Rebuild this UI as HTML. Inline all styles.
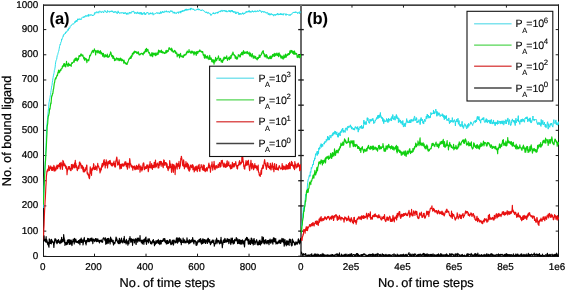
<!DOCTYPE html>
<html><head><meta charset="utf-8"><title>bound ligand</title>
<style>html,body{margin:0;padding:0;background:#fff;}svg{display:block;will-change:transform;}text{font-family:"Liberation Sans",sans-serif;fill:#000;text-rendering:geometricPrecision;stroke:#000;stroke-width:0.22px;}</style>
</head><body>
<svg width="566" height="290" viewBox="0 0 566 290">
<rect width="566" height="290" fill="#fff"/>
<defs><clipPath id="ca"><rect x="43" y="0" width="258" height="257"/></clipPath><clipPath id="cb"><rect x="301" y="0" width="258" height="257"/></clipPath></defs>
<line x1="43.00" y1="5.20" x2="559.00" y2="5.20" stroke="#000" stroke-width="1.3"/>
<line x1="43.50" y1="256.50" x2="558.50" y2="256.50" stroke="#1a1a1a" stroke-width="1.0"/>
<line x1="43.50" y1="4.50" x2="43.50" y2="257.00" stroke="#1a1a1a" stroke-width="1.0"/>
<line x1="558.50" y1="4.50" x2="558.50" y2="257.00" stroke="#1a1a1a" stroke-width="1.0"/>
<line x1="301.00" y1="5.00" x2="301.00" y2="256.50" stroke="#6a6a6a" stroke-width="2.0"/>
<line x1="43.50" y1="256.30" x2="46.30" y2="256.30" stroke="#1a1a1a" stroke-width="1.0"/>
<line x1="298.20" y1="256.30" x2="303.80" y2="256.30" stroke="#1a1a1a" stroke-width="1.3"/>
<line x1="555.70" y1="256.30" x2="558.50" y2="256.30" stroke="#1a1a1a" stroke-width="1.0"/>
<line x1="43.50" y1="231.11" x2="46.30" y2="231.11" stroke="#1a1a1a" stroke-width="1.0"/>
<line x1="298.20" y1="231.11" x2="303.80" y2="231.11" stroke="#1a1a1a" stroke-width="1.3"/>
<line x1="555.70" y1="231.11" x2="558.50" y2="231.11" stroke="#1a1a1a" stroke-width="1.0"/>
<line x1="43.50" y1="205.92" x2="46.30" y2="205.92" stroke="#1a1a1a" stroke-width="1.0"/>
<line x1="298.20" y1="205.92" x2="303.80" y2="205.92" stroke="#1a1a1a" stroke-width="1.3"/>
<line x1="555.70" y1="205.92" x2="558.50" y2="205.92" stroke="#1a1a1a" stroke-width="1.0"/>
<line x1="43.50" y1="180.73" x2="46.30" y2="180.73" stroke="#1a1a1a" stroke-width="1.0"/>
<line x1="298.20" y1="180.73" x2="303.80" y2="180.73" stroke="#1a1a1a" stroke-width="1.3"/>
<line x1="555.70" y1="180.73" x2="558.50" y2="180.73" stroke="#1a1a1a" stroke-width="1.0"/>
<line x1="43.50" y1="155.54" x2="46.30" y2="155.54" stroke="#1a1a1a" stroke-width="1.0"/>
<line x1="298.20" y1="155.54" x2="303.80" y2="155.54" stroke="#1a1a1a" stroke-width="1.3"/>
<line x1="555.70" y1="155.54" x2="558.50" y2="155.54" stroke="#1a1a1a" stroke-width="1.0"/>
<line x1="43.50" y1="130.35" x2="46.30" y2="130.35" stroke="#1a1a1a" stroke-width="1.0"/>
<line x1="298.20" y1="130.35" x2="303.80" y2="130.35" stroke="#1a1a1a" stroke-width="1.3"/>
<line x1="555.70" y1="130.35" x2="558.50" y2="130.35" stroke="#1a1a1a" stroke-width="1.0"/>
<line x1="43.50" y1="105.16" x2="46.30" y2="105.16" stroke="#1a1a1a" stroke-width="1.0"/>
<line x1="298.20" y1="105.16" x2="303.80" y2="105.16" stroke="#1a1a1a" stroke-width="1.3"/>
<line x1="555.70" y1="105.16" x2="558.50" y2="105.16" stroke="#1a1a1a" stroke-width="1.0"/>
<line x1="43.50" y1="79.97" x2="46.30" y2="79.97" stroke="#1a1a1a" stroke-width="1.0"/>
<line x1="298.20" y1="79.97" x2="303.80" y2="79.97" stroke="#1a1a1a" stroke-width="1.3"/>
<line x1="555.70" y1="79.97" x2="558.50" y2="79.97" stroke="#1a1a1a" stroke-width="1.0"/>
<line x1="43.50" y1="54.78" x2="46.30" y2="54.78" stroke="#1a1a1a" stroke-width="1.0"/>
<line x1="298.20" y1="54.78" x2="303.80" y2="54.78" stroke="#1a1a1a" stroke-width="1.3"/>
<line x1="555.70" y1="54.78" x2="558.50" y2="54.78" stroke="#1a1a1a" stroke-width="1.0"/>
<line x1="43.50" y1="29.59" x2="46.30" y2="29.59" stroke="#1a1a1a" stroke-width="1.0"/>
<line x1="298.20" y1="29.59" x2="303.80" y2="29.59" stroke="#1a1a1a" stroke-width="1.3"/>
<line x1="555.70" y1="29.59" x2="558.50" y2="29.59" stroke="#1a1a1a" stroke-width="1.0"/>
<line x1="94.51" y1="256.50" x2="94.51" y2="253.70" stroke="#1a1a1a" stroke-width="1.0"/>
<line x1="94.51" y1="5.20" x2="94.51" y2="7.60" stroke="#1a1a1a" stroke-width="1.0"/>
<line x1="146.02" y1="256.50" x2="146.02" y2="253.70" stroke="#1a1a1a" stroke-width="1.0"/>
<line x1="146.02" y1="5.20" x2="146.02" y2="7.60" stroke="#1a1a1a" stroke-width="1.0"/>
<line x1="197.53" y1="256.50" x2="197.53" y2="253.70" stroke="#1a1a1a" stroke-width="1.0"/>
<line x1="197.53" y1="5.20" x2="197.53" y2="7.60" stroke="#1a1a1a" stroke-width="1.0"/>
<line x1="249.04" y1="256.50" x2="249.04" y2="253.70" stroke="#1a1a1a" stroke-width="1.0"/>
<line x1="249.04" y1="5.20" x2="249.04" y2="7.60" stroke="#1a1a1a" stroke-width="1.0"/>
<line x1="351.98" y1="256.50" x2="351.98" y2="253.70" stroke="#1a1a1a" stroke-width="1.0"/>
<line x1="351.98" y1="5.20" x2="351.98" y2="7.60" stroke="#1a1a1a" stroke-width="1.0"/>
<line x1="403.46" y1="256.50" x2="403.46" y2="253.70" stroke="#1a1a1a" stroke-width="1.0"/>
<line x1="403.46" y1="5.20" x2="403.46" y2="7.60" stroke="#1a1a1a" stroke-width="1.0"/>
<line x1="454.94" y1="256.50" x2="454.94" y2="253.70" stroke="#1a1a1a" stroke-width="1.0"/>
<line x1="454.94" y1="5.20" x2="454.94" y2="7.60" stroke="#1a1a1a" stroke-width="1.0"/>
<line x1="506.42" y1="256.50" x2="506.42" y2="253.70" stroke="#1a1a1a" stroke-width="1.0"/>
<line x1="506.42" y1="5.20" x2="506.42" y2="7.60" stroke="#1a1a1a" stroke-width="1.0"/>
<g clip-path="url(#ca)"><path d="M43.30,208.00 L43.56,200.26 L43.82,191.73 L44.07,184.47 L44.33,178.03 L44.59,173.78 L44.85,169.42 L45.11,164.52 L45.36,159.13 L45.62,154.83 L45.88,150.61 L46.14,142.71 L46.40,134.36 L46.65,126.37 L46.91,124.95 L47.17,122.32 L47.43,119.76 L47.69,117.13 L47.94,113.78 L48.20,111.40 L48.46,108.77 L48.72,106.10 L48.98,102.76 L49.23,101.80 L49.49,99.83 L49.75,98.49 L50.01,97.52 L50.26,95.73 L50.52,94.70 L50.78,92.35 L51.04,90.54 L51.30,89.07 L51.55,87.14 L51.81,85.69 L52.07,85.18 L52.33,82.28 L52.59,80.80 L52.84,79.00 L53.10,77.41 L53.36,75.84 L53.62,75.04 L53.88,73.55 L54.13,72.57 L54.39,70.39 L54.65,69.80 L54.91,68.15 L55.17,66.94 L55.42,64.32 L55.68,62.13 L55.94,61.13 L56.20,60.19 L56.46,59.74 L56.71,59.10 L56.97,57.23 L57.23,55.65 L57.49,55.06 L57.75,54.54 L58.00,53.31 L58.26,52.49 L58.52,51.47 L58.78,51.10 L59.04,49.48 L59.29,48.24 L59.55,46.39 L59.81,45.81 L60.07,44.32 L60.33,44.79 L60.58,43.67 L60.84,42.22 L61.10,42.18 L61.36,41.67 L61.62,38.90 L61.87,39.40 L62.13,39.33 L62.39,38.55 L62.65,37.44 L62.90,36.79 L63.16,35.67 L63.42,36.33 L63.68,35.14 L63.94,34.01 L64.19,34.01 L64.45,34.12 L64.71,33.91 L64.97,33.73 L65.23,32.95 L65.48,33.58 L65.74,31.87 L66.00,32.59 L66.26,31.98 L66.52,31.77 L66.77,31.88 L67.03,30.79 L67.29,30.89 L67.55,30.75 L67.81,30.61 L68.06,29.12 L68.32,30.35 L68.58,29.79 L68.84,27.80 L69.10,28.21 L69.35,28.69 L69.61,28.32 L69.87,28.25 L70.13,26.45 L70.39,25.90 L70.64,26.00 L70.90,25.74 L71.16,25.81 L71.42,25.27 L71.68,25.23 L71.93,24.55 L72.19,24.14 L72.45,24.02 L72.71,24.06 L72.97,24.10 L73.22,24.29 L73.48,23.72 L73.74,24.09 L74.00,23.45 L74.25,23.04 L74.51,22.45 L74.77,22.84 L75.03,21.33 L75.29,22.26 L75.54,22.33 L75.80,20.81 L76.06,21.59 L76.32,20.38 L76.58,21.39 L76.83,20.38 L77.09,21.48 L77.35,20.49 L77.61,18.81 L77.87,19.92 L78.12,19.35 L78.38,19.34 L78.64,19.86 L78.90,19.89 L79.16,18.62 L79.41,19.13 L79.67,19.53 L79.93,19.35 L80.19,18.72 L80.45,19.03 L80.70,19.44 L80.96,19.98 L81.22,18.75 L81.48,18.86 L81.74,18.44 L81.99,17.53 L82.25,17.11 L82.51,17.22 L82.77,16.96 L83.03,16.96 L83.28,17.03 L83.54,17.60 L83.80,16.66 L84.06,17.32 L84.32,16.40 L84.57,16.45 L84.83,17.25 L85.09,17.02 L85.35,15.59 L85.61,15.45 L85.86,15.35 L86.12,15.60 L86.38,16.47 L86.64,15.68 L86.89,15.76 L87.15,15.64 L87.41,16.30 L87.67,15.51 L87.93,15.59 L88.18,14.49 L88.44,14.41 L88.70,16.49 L88.96,14.57 L89.22,15.14 L89.47,15.35 L89.73,15.04 L89.99,14.76 L90.25,15.38 L90.51,15.15 L90.76,15.20 L91.02,14.44 L91.28,15.28 L91.54,14.96 L91.80,14.92 L92.05,14.95 L92.31,14.98 L92.57,15.98 L92.83,15.25 L93.09,15.09 L93.34,15.41 L93.60,15.38 L93.86,15.34 L94.12,14.54 L94.38,13.59 L94.63,14.41 L94.89,12.39 L95.15,13.29 L95.41,12.77 L95.67,12.70 L95.92,12.22 L96.18,12.15 L96.44,11.67 L96.70,12.06 L96.96,13.20 L97.21,12.18 L97.47,12.33 L97.73,12.25 L97.99,11.78 L98.25,11.47 L98.50,12.62 L98.76,13.19 L99.02,12.53 L99.28,11.74 L99.53,11.35 L99.79,10.82 L100.05,11.28 L100.31,12.12 L100.57,11.84 L100.82,11.78 L101.08,12.20 L101.34,12.81 L101.60,11.72 L101.86,11.40 L102.11,11.21 L102.37,11.44 L102.63,12.01 L102.89,11.93 L103.15,12.39 L103.40,12.35 L103.66,12.95 L103.92,11.39 L104.18,11.00 L104.44,10.76 L104.69,11.13 L104.95,10.53 L105.21,11.49 L105.47,11.65 L105.73,11.07 L105.98,12.14 L106.24,12.14 L106.50,12.56 L106.76,12.50 L107.02,12.00 L107.27,12.38 L107.53,10.51 L107.79,10.62 L108.05,11.33 L108.31,11.75 L108.56,11.70 L108.82,11.84 L109.08,11.35 L109.34,11.51 L109.60,12.32 L109.85,11.59 L110.11,10.88 L110.37,11.26 L110.63,11.71 L110.88,11.14 L111.14,11.56 L111.40,10.79 L111.66,11.02 L111.92,11.00 L112.17,12.07 L112.43,10.81 L112.69,11.49 L112.95,11.48 L113.21,12.33 L113.46,12.36 L113.72,12.81 L113.98,11.73 L114.24,11.99 L114.50,12.19 L114.75,11.52 L115.01,12.66 L115.27,12.27 L115.53,11.81 L115.79,11.25 L116.04,11.96 L116.30,12.22 L116.56,13.18 L116.82,12.65 L117.08,12.75 L117.33,13.61 L117.59,12.42 L117.85,11.57 L118.11,10.87 L118.37,11.89 L118.62,13.00 L118.88,12.44 L119.14,13.09 L119.40,12.93 L119.66,13.51 L119.91,13.27 L120.17,12.79 L120.43,12.66 L120.69,13.24 L120.95,12.99 L121.20,12.52 L121.46,12.49 L121.72,13.29 L121.98,12.94 L122.24,13.01 L122.49,12.54 L122.75,12.79 L123.01,12.99 L123.27,13.17 L123.52,13.82 L123.78,12.47 L124.04,13.41 L124.30,13.02 L124.56,13.55 L124.81,12.95 L125.07,12.20 L125.33,12.35 L125.59,13.56 L125.85,13.85 L126.10,14.13 L126.36,14.39 L126.62,12.91 L126.88,13.70 L127.14,14.47 L127.39,13.76 L127.65,13.01 L127.91,12.69 L128.17,13.99 L128.43,14.27 L128.68,13.80 L128.94,13.51 L129.20,13.63 L129.46,12.21 L129.72,12.92 L129.97,12.82 L130.23,12.11 L130.49,13.01 L130.75,13.48 L131.01,12.91 L131.26,12.91 L131.52,12.81 L131.78,11.54 L132.04,11.77 L132.30,11.34 L132.55,11.54 L132.81,11.96 L133.07,12.13 L133.33,11.01 L133.59,11.12 L133.84,11.17 L134.10,12.26 L134.36,12.54 L134.62,13.61 L134.88,12.46 L135.13,12.17 L135.39,12.97 L135.65,12.86 L135.91,12.66 L136.16,13.76 L136.42,13.71 L136.68,12.70 L136.94,12.25 L137.20,12.30 L137.45,13.30 L137.71,11.87 L137.97,12.01 L138.23,13.49 L138.49,13.76 L138.74,13.06 L139.00,12.96 L139.26,13.60 L139.52,12.53 L139.78,13.30 L140.03,14.32 L140.29,13.39 L140.55,12.26 L140.81,12.63 L141.07,13.67 L141.32,14.26 L141.58,12.47 L141.84,14.49 L142.10,12.98 L142.36,14.28 L142.61,14.59 L142.87,14.60 L143.13,13.68 L143.39,13.28 L143.65,13.55 L143.90,13.05 L144.16,12.08 L144.42,13.76 L144.68,13.55 L144.94,14.76 L145.19,13.35 L145.45,14.13 L145.71,14.71 L145.97,13.85 L146.23,13.51 L146.48,13.04 L146.74,13.25 L147.00,12.11 L147.26,12.48 L147.52,12.94 L147.77,12.27 L148.03,12.69 L148.29,13.47 L148.55,14.35 L148.80,13.66 L149.06,14.26 L149.32,14.36 L149.58,13.89 L149.84,13.20 L150.09,13.78 L150.35,12.75 L150.61,14.07 L150.87,12.85 L151.13,13.97 L151.38,14.09 L151.64,13.67 L151.90,13.21 L152.16,13.24 L152.42,13.45 L152.67,12.54 L152.93,14.53 L153.19,15.16 L153.45,14.21 L153.71,13.68 L153.96,14.07 L154.22,13.90 L154.48,14.14 L154.74,13.97 L155.00,14.07 L155.25,13.90 L155.51,13.28 L155.77,13.55 L156.03,13.19 L156.29,12.62 L156.54,12.80 L156.80,12.97 L157.06,12.62 L157.32,13.61 L157.58,13.40 L157.83,13.34 L158.09,12.49 L158.35,12.78 L158.61,13.25 L158.87,13.75 L159.12,14.07 L159.38,13.19 L159.64,13.99 L159.90,12.60 L160.15,13.09 L160.41,12.77 L160.67,11.56 L160.93,13.77 L161.19,13.35 L161.44,12.54 L161.70,12.00 L161.96,12.64 L162.22,12.06 L162.48,11.06 L162.73,11.69 L162.99,12.59 L163.25,11.71 L163.51,12.28 L163.77,12.02 L164.02,12.71 L164.28,12.17 L164.54,11.78 L164.80,10.83 L165.06,11.19 L165.31,11.84 L165.57,11.68 L165.83,11.61 L166.09,11.42 L166.35,10.72 L166.60,12.12 L166.86,11.33 L167.12,11.52 L167.38,11.97 L167.64,12.21 L167.89,11.68 L168.15,11.98 L168.41,11.33 L168.67,11.13 L168.93,11.82 L169.18,12.63 L169.44,12.90 L169.70,12.35 L169.96,11.42 L170.22,10.84 L170.47,11.00 L170.73,11.48 L170.99,10.44 L171.25,11.46 L171.51,11.45 L171.76,11.89 L172.02,11.12 L172.28,10.91 L172.54,11.58 L172.79,11.72 L173.05,13.18 L173.31,12.84 L173.57,12.71 L173.83,11.94 L174.08,11.82 L174.34,13.39 L174.60,12.21 L174.86,12.80 L175.12,13.33 L175.37,12.66 L175.63,13.11 L175.89,13.43 L176.15,13.20 L176.41,13.66 L176.66,12.52 L176.92,12.27 L177.18,12.46 L177.44,12.40 L177.70,12.48 L177.95,12.87 L178.21,11.67 L178.47,13.42 L178.73,13.21 L178.99,13.11 L179.24,12.31 L179.50,11.94 L179.76,12.03 L180.02,12.24 L180.28,11.10 L180.53,12.02 L180.79,13.16 L181.05,10.92 L181.31,11.98 L181.57,11.37 L181.82,11.30 L182.08,11.93 L182.34,10.28 L182.60,11.20 L182.86,11.83 L183.11,11.15 L183.37,10.68 L183.63,10.74 L183.89,10.24 L184.15,11.24 L184.40,10.26 L184.66,10.90 L184.92,9.58 L185.18,10.58 L185.43,10.34 L185.69,8.96 L185.95,9.48 L186.21,9.54 L186.47,8.89 L186.72,10.54 L186.98,9.56 L187.24,9.18 L187.50,10.17 L187.76,9.52 L188.01,10.16 L188.27,10.06 L188.53,9.21 L188.79,9.15 L189.05,9.10 L189.30,9.86 L189.56,9.61 L189.82,9.39 L190.08,9.03 L190.34,8.17 L190.59,10.13 L190.85,9.31 L191.11,7.92 L191.37,8.87 L191.63,8.81 L191.88,9.10 L192.14,9.08 L192.40,9.42 L192.66,9.05 L192.92,8.59 L193.17,9.03 L193.43,9.94 L193.69,9.15 L193.95,9.45 L194.21,9.64 L194.46,9.81 L194.72,9.92 L194.98,10.79 L195.24,10.39 L195.50,10.12 L195.75,9.80 L196.01,10.04 L196.27,9.74 L196.53,9.91 L196.78,10.08 L197.04,9.03 L197.30,9.31 L197.56,9.72 L197.82,9.26 L198.07,8.50 L198.33,9.68 L198.59,9.79 L198.85,10.13 L199.11,8.96 L199.36,10.07 L199.62,9.42 L199.88,9.57 L200.14,9.93 L200.40,10.01 L200.65,10.31 L200.91,10.83 L201.17,10.11 L201.43,10.23 L201.69,10.72 L201.94,10.18 L202.20,9.61 L202.46,10.01 L202.72,10.13 L202.98,10.54 L203.23,10.54 L203.49,10.41 L203.75,11.06 L204.01,11.01 L204.27,10.99 L204.52,11.54 L204.78,11.57 L205.04,12.28 L205.30,12.44 L205.56,12.30 L205.81,11.94 L206.07,12.49 L206.33,11.75 L206.59,12.78 L206.85,12.47 L207.10,12.25 L207.36,12.40 L207.62,13.48 L207.88,13.20 L208.14,12.53 L208.39,12.34 L208.65,12.78 L208.91,12.65 L209.17,13.71 L209.42,14.06 L209.68,13.66 L209.94,13.63 L210.20,13.52 L210.46,14.58 L210.71,14.21 L210.97,15.56 L211.23,14.30 L211.49,14.62 L211.75,14.55 L212.00,14.18 L212.26,13.68 L212.52,13.70 L212.78,13.35 L213.04,13.61 L213.29,12.53 L213.55,13.94 L213.81,13.17 L214.07,13.10 L214.33,13.67 L214.58,13.99 L214.84,14.16 L215.10,12.79 L215.36,12.69 L215.62,13.60 L215.87,13.11 L216.13,12.57 L216.39,12.74 L216.65,12.61 L216.91,12.36 L217.16,12.66 L217.42,11.91 L217.68,13.43 L217.94,12.90 L218.20,12.46 L218.45,12.84 L218.71,12.02 L218.97,11.13 L219.23,11.36 L219.49,11.19 L219.74,11.49 L220.00,11.17 L220.26,12.12 L220.52,10.74 L220.78,11.24 L221.03,10.76 L221.29,10.86 L221.55,11.26 L221.81,10.11 L222.06,10.02 L222.32,10.25 L222.58,11.56 L222.84,11.50 L223.10,11.22 L223.35,10.80 L223.61,11.04 L223.87,10.13 L224.13,10.68 L224.39,10.36 L224.64,11.25 L224.90,11.00 L225.16,10.34 L225.42,11.62 L225.68,12.03 L225.93,11.53 L226.19,11.87 L226.45,10.64 L226.71,11.96 L226.97,11.85 L227.22,11.55 L227.48,12.13 L227.74,11.41 L228.00,10.77 L228.26,10.98 L228.51,10.69 L228.77,11.37 L229.03,10.55 L229.29,11.26 L229.55,10.73 L229.80,11.95 L230.06,10.52 L230.32,11.35 L230.58,12.21 L230.84,11.14 L231.09,10.76 L231.35,10.09 L231.61,10.98 L231.87,11.06 L232.13,11.91 L232.38,10.24 L232.64,11.85 L232.90,11.12 L233.16,12.22 L233.42,11.51 L233.67,11.37 L233.93,12.74 L234.19,11.74 L234.45,11.45 L234.70,11.20 L234.96,11.51 L235.22,13.08 L235.48,13.76 L235.74,12.72 L235.99,11.77 L236.25,12.34 L236.51,13.52 L236.77,13.09 L237.03,13.32 L237.28,12.47 L237.54,12.65 L237.80,11.98 L238.06,11.94 L238.32,12.65 L238.57,12.62 L238.83,14.78 L239.09,13.54 L239.35,13.03 L239.61,13.81 L239.86,14.57 L240.12,13.67 L240.38,13.15 L240.64,13.97 L240.90,14.42 L241.15,13.83 L241.41,14.04 L241.67,13.99 L241.93,14.20 L242.19,13.35 L242.44,14.06 L242.70,12.64 L242.96,13.44 L243.22,13.50 L243.48,14.35 L243.73,14.26 L243.99,13.44 L244.25,12.81 L244.51,13.96 L244.77,13.49 L245.02,13.53 L245.28,13.27 L245.54,12.26 L245.80,12.46 L246.05,12.35 L246.31,11.14 L246.57,12.50 L246.83,12.46 L247.09,12.42 L247.34,12.33 L247.60,11.49 L247.86,10.97 L248.12,11.54 L248.38,11.90 L248.63,10.72 L248.89,12.20 L249.15,11.27 L249.41,10.60 L249.67,12.20 L249.92,11.81 L250.18,11.23 L250.44,12.33 L250.70,11.73 L250.96,11.67 L251.21,12.09 L251.47,12.31 L251.73,11.62 L251.99,11.98 L252.25,10.64 L252.50,11.61 L252.76,10.96 L253.02,11.07 L253.28,11.53 L253.54,12.28 L253.79,11.55 L254.05,11.98 L254.31,11.32 L254.57,11.11 L254.83,11.60 L255.08,10.70 L255.34,11.76 L255.60,11.86 L255.86,11.64 L256.12,10.92 L256.37,11.42 L256.63,11.82 L256.89,11.83 L257.15,11.25 L257.41,10.49 L257.66,10.71 L257.92,11.45 L258.18,10.91 L258.44,11.45 L258.69,11.02 L258.95,11.26 L259.21,11.14 L259.47,11.03 L259.73,10.02 L259.98,10.14 L260.24,11.15 L260.50,10.99 L260.76,11.19 L261.02,11.19 L261.27,11.85 L261.53,12.60 L261.79,11.79 L262.05,10.92 L262.31,11.31 L262.56,11.78 L262.82,11.68 L263.08,11.10 L263.34,11.60 L263.60,12.36 L263.85,11.86 L264.11,12.17 L264.37,11.62 L264.63,12.14 L264.89,11.68 L265.14,12.28 L265.40,12.69 L265.66,13.11 L265.92,12.28 L266.18,12.84 L266.43,12.74 L266.69,12.96 L266.95,13.43 L267.21,12.44 L267.47,12.37 L267.72,12.57 L267.98,12.89 L268.24,14.62 L268.50,13.99 L268.76,14.46 L269.01,13.11 L269.27,14.22 L269.53,15.03 L269.79,15.26 L270.05,14.26 L270.30,14.52 L270.56,15.11 L270.82,13.61 L271.08,14.16 L271.33,14.39 L271.59,13.62 L271.85,14.20 L272.11,14.88 L272.37,14.43 L272.62,14.11 L272.88,15.14 L273.14,14.72 L273.40,15.47 L273.66,16.14 L273.91,14.74 L274.17,15.23 L274.43,15.13 L274.69,14.40 L274.95,14.74 L275.20,14.27 L275.46,15.48 L275.72,15.55 L275.98,15.21 L276.24,14.21 L276.49,14.71 L276.75,13.96 L277.01,13.88 L277.27,14.52 L277.53,13.30 L277.78,14.21 L278.04,13.59 L278.30,15.15 L278.56,14.80 L278.82,14.10 L279.07,14.00 L279.33,14.97 L279.59,14.20 L279.85,14.01 L280.11,13.72 L280.36,13.20 L280.62,14.80 L280.88,14.32 L281.14,14.94 L281.40,13.92 L281.65,14.59 L281.91,13.46 L282.17,14.42 L282.43,14.07 L282.68,14.49 L282.94,14.03 L283.20,15.28 L283.46,13.73 L283.72,13.57 L283.97,13.95 L284.23,14.01 L284.49,13.71 L284.75,14.01 L285.01,14.31 L285.26,14.50 L285.52,13.83 L285.78,14.68 L286.04,15.48 L286.30,13.75 L286.55,14.43 L286.81,14.32 L287.07,14.58 L287.33,14.15 L287.59,14.55 L287.84,14.23 L288.10,14.71 L288.36,14.78 L288.62,15.24 L288.88,15.15 L289.13,15.22 L289.39,14.70 L289.65,15.06 L289.91,15.64 L290.17,14.31 L290.42,15.21 L290.68,14.97 L290.94,14.68 L291.20,14.26 L291.46,13.81 L291.71,14.35 L291.97,13.95 L292.23,13.33 L292.49,13.22 L292.75,12.88 L293.00,12.48 L293.26,12.96 L293.52,12.20 L293.78,12.34 L294.04,11.99 L294.29,12.50 L294.55,11.92 L294.81,12.86 L295.07,12.58 L295.32,11.94 L295.58,12.40 L295.84,11.58 L296.10,12.60 L296.36,12.29 L296.61,12.02 L296.87,12.39 L297.13,12.98 L297.39,12.64 L297.65,13.70 L297.90,13.40 L298.16,12.54 L298.42,12.65 L298.68,12.25 L298.94,12.23 L299.19,12.42 L299.45,13.67 L299.71,13.08 L299.97,11.49 L300.23,12.31 L300.48,12.24 L300.74,12.10 L301.00,11.66" stroke="#22dde8" stroke-width="0.95" fill="none" stroke-linejoin="round"/>
<path d="M43.30,204.78 L43.56,199.95 L43.82,194.00 L44.07,186.60 L44.33,183.57 L44.59,177.08 L44.85,171.69 L45.11,166.57 L45.36,162.64 L45.62,159.59 L45.88,153.74 L46.14,149.45 L46.40,145.36 L46.65,139.11 L46.91,134.79 L47.17,127.17 L47.43,124.94 L47.69,123.80 L47.94,119.59 L48.20,116.92 L48.46,115.96 L48.72,115.27 L48.98,113.95 L49.23,112.84 L49.49,109.14 L49.75,108.38 L50.01,109.10 L50.26,106.78 L50.52,105.20 L50.78,102.81 L51.04,103.72 L51.30,100.33 L51.55,97.45 L51.81,95.57 L52.07,96.10 L52.33,94.65 L52.59,93.34 L52.84,93.54 L53.10,91.69 L53.36,89.22 L53.62,89.01 L53.88,86.61 L54.13,84.64 L54.39,82.81 L54.65,82.44 L54.91,80.43 L55.17,78.90 L55.42,79.18 L55.68,77.72 L55.94,78.99 L56.20,77.70 L56.46,77.18 L56.71,76.36 L56.97,75.09 L57.23,75.30 L57.49,75.59 L57.75,73.46 L58.00,72.01 L58.26,72.51 L58.52,70.38 L58.78,70.07 L59.04,72.86 L59.29,72.12 L59.55,72.11 L59.81,71.61 L60.07,70.48 L60.33,70.02 L60.58,69.61 L60.84,70.56 L61.10,68.77 L61.36,69.11 L61.62,68.57 L61.87,68.68 L62.13,68.03 L62.39,65.96 L62.65,67.25 L62.90,65.61 L63.16,66.48 L63.42,65.54 L63.68,64.13 L63.94,63.66 L64.19,65.31 L64.45,66.09 L64.71,63.63 L64.97,65.10 L65.23,64.67 L65.48,66.38 L65.74,66.87 L66.00,64.74 L66.26,64.48 L66.52,61.28 L66.77,64.68 L67.03,63.91 L67.29,64.90 L67.55,64.36 L67.81,66.20 L68.06,66.42 L68.32,65.42 L68.58,63.13 L68.84,64.62 L69.10,65.26 L69.35,65.09 L69.61,65.59 L69.87,64.21 L70.13,64.94 L70.39,65.43 L70.64,65.42 L70.90,65.16 L71.16,66.35 L71.42,63.67 L71.68,63.50 L71.93,62.48 L72.19,63.50 L72.45,63.06 L72.71,62.70 L72.97,62.23 L73.22,62.23 L73.48,61.70 L73.74,61.55 L74.00,59.91 L74.25,62.21 L74.51,60.13 L74.77,60.27 L75.03,58.66 L75.29,58.26 L75.54,60.30 L75.80,60.43 L76.06,58.03 L76.32,59.26 L76.58,57.98 L76.83,58.64 L77.09,60.85 L77.35,59.03 L77.61,60.94 L77.87,58.72 L78.12,58.71 L78.38,59.50 L78.64,58.82 L78.90,55.82 L79.16,56.76 L79.41,55.58 L79.67,56.34 L79.93,56.25 L80.19,56.33 L80.45,55.18 L80.70,54.44 L80.96,53.89 L81.22,54.02 L81.48,55.50 L81.74,54.79 L81.99,55.63 L82.25,56.10 L82.51,55.76 L82.77,54.88 L83.03,55.66 L83.28,56.68 L83.54,57.53 L83.80,58.73 L84.06,58.99 L84.32,57.44 L84.57,60.18 L84.83,59.53 L85.09,58.55 L85.35,58.30 L85.61,58.28 L85.86,58.64 L86.12,59.46 L86.38,61.10 L86.64,59.18 L86.89,62.69 L87.15,60.98 L87.41,60.43 L87.67,60.12 L87.93,59.78 L88.18,60.19 L88.44,59.86 L88.70,60.85 L88.96,59.77 L89.22,58.20 L89.47,57.56 L89.73,55.32 L89.99,55.87 L90.25,55.87 L90.51,55.77 L90.76,54.30 L91.02,54.12 L91.28,53.36 L91.54,52.55 L91.80,52.86 L92.05,51.12 L92.31,51.25 L92.57,50.99 L92.83,50.30 L93.09,51.65 L93.34,52.36 L93.60,51.23 L93.86,50.32 L94.12,50.76 L94.38,48.83 L94.63,50.60 L94.89,50.32 L95.15,50.49 L95.41,52.96 L95.67,55.01 L95.92,50.79 L96.18,52.55 L96.44,52.00 L96.70,50.93 L96.96,51.36 L97.21,50.94 L97.47,51.75 L97.73,52.95 L97.99,50.26 L98.25,52.18 L98.50,52.06 L98.76,51.18 L99.02,51.63 L99.28,53.38 L99.53,52.63 L99.79,52.35 L100.05,51.89 L100.31,50.57 L100.57,52.40 L100.82,53.81 L101.08,53.76 L101.34,52.39 L101.60,52.21 L101.86,54.17 L102.11,54.02 L102.37,53.54 L102.63,56.18 L102.89,54.40 L103.15,54.27 L103.40,53.28 L103.66,55.39 L103.92,56.94 L104.18,57.12 L104.44,56.55 L104.69,56.75 L104.95,54.76 L105.21,54.59 L105.47,55.19 L105.73,55.28 L105.98,56.86 L106.24,56.63 L106.50,55.68 L106.76,56.19 L107.02,56.09 L107.27,54.07 L107.53,55.79 L107.79,57.31 L108.05,57.00 L108.31,56.33 L108.56,57.12 L108.82,56.54 L109.08,55.90 L109.34,56.66 L109.60,54.62 L109.85,54.82 L110.11,54.13 L110.37,53.21 L110.63,51.91 L110.88,52.45 L111.14,53.40 L111.40,55.29 L111.66,55.74 L111.92,56.73 L112.17,56.50 L112.43,55.25 L112.69,57.24 L112.95,58.52 L113.21,57.49 L113.46,56.04 L113.72,57.23 L113.98,58.40 L114.24,58.28 L114.50,60.74 L114.75,58.64 L115.01,60.28 L115.27,58.96 L115.53,60.04 L115.79,59.67 L116.04,60.11 L116.30,58.70 L116.56,57.79 L116.82,58.28 L117.08,58.53 L117.33,58.68 L117.59,58.57 L117.85,60.13 L118.11,59.65 L118.37,58.80 L118.62,58.71 L118.88,58.38 L119.14,60.78 L119.40,60.20 L119.66,59.48 L119.91,60.34 L120.17,58.63 L120.43,58.11 L120.69,58.88 L120.95,59.14 L121.20,60.56 L121.46,59.19 L121.72,58.98 L121.98,60.90 L122.24,59.50 L122.49,59.79 L122.75,60.35 L123.01,60.26 L123.27,60.26 L123.52,60.33 L123.78,63.22 L124.04,59.97 L124.30,61.98 L124.56,62.99 L124.81,62.71 L125.07,62.46 L125.33,62.66 L125.59,63.94 L125.85,63.15 L126.10,63.33 L126.36,63.31 L126.62,64.40 L126.88,63.20 L127.14,64.34 L127.39,62.86 L127.65,62.71 L127.91,62.07 L128.17,61.16 L128.43,60.67 L128.68,59.55 L128.94,59.37 L129.20,58.43 L129.46,58.95 L129.72,58.14 L129.97,58.19 L130.23,57.13 L130.49,58.51 L130.75,57.35 L131.01,56.15 L131.26,58.19 L131.52,56.29 L131.78,55.31 L132.04,56.49 L132.30,53.56 L132.55,53.32 L132.81,54.79 L133.07,53.22 L133.33,52.78 L133.59,52.39 L133.84,53.70 L134.10,52.11 L134.36,51.01 L134.62,52.61 L134.88,52.30 L135.13,51.92 L135.39,52.09 L135.65,51.43 L135.91,51.69 L136.16,51.68 L136.42,52.94 L136.68,52.90 L136.94,53.47 L137.20,52.15 L137.45,52.54 L137.71,52.83 L137.97,52.88 L138.23,53.74 L138.49,51.72 L138.74,53.84 L139.00,54.55 L139.26,54.91 L139.52,54.84 L139.78,54.12 L140.03,54.07 L140.29,54.64 L140.55,53.97 L140.81,53.72 L141.07,53.65 L141.32,53.19 L141.58,53.61 L141.84,53.61 L142.10,53.92 L142.36,53.53 L142.61,54.36 L142.87,53.55 L143.13,54.86 L143.39,52.74 L143.65,53.58 L143.90,52.59 L144.16,51.92 L144.42,53.13 L144.68,52.43 L144.94,51.19 L145.19,51.87 L145.45,49.39 L145.71,51.37 L145.97,49.58 L146.23,49.24 L146.48,48.30 L146.74,51.70 L147.00,49.55 L147.26,50.31 L147.52,49.59 L147.77,49.29 L148.03,49.77 L148.29,51.68 L148.55,52.19 L148.80,53.05 L149.06,52.42 L149.32,52.43 L149.58,53.26 L149.84,54.21 L150.09,55.67 L150.35,55.09 L150.61,55.85 L150.87,55.98 L151.13,53.99 L151.38,55.92 L151.64,54.47 L151.90,52.47 L152.16,54.29 L152.42,53.68 L152.67,56.76 L152.93,53.01 L153.19,53.74 L153.45,54.75 L153.71,53.75 L153.96,53.17 L154.22,54.24 L154.48,54.70 L154.74,53.80 L155.00,53.21 L155.25,55.45 L155.51,55.72 L155.77,54.35 L156.03,52.88 L156.29,54.82 L156.54,54.62 L156.80,55.02 L157.06,53.59 L157.32,53.19 L157.58,52.76 L157.83,54.14 L158.09,54.50 L158.35,51.14 L158.61,50.12 L158.87,52.99 L159.12,51.19 L159.38,51.18 L159.64,51.65 L159.90,50.68 L160.15,52.05 L160.41,51.75 L160.67,51.19 L160.93,51.90 L161.19,52.48 L161.44,50.03 L161.70,51.61 L161.96,51.52 L162.22,52.83 L162.48,52.97 L162.73,51.58 L162.99,52.07 L163.25,52.04 L163.51,52.73 L163.77,52.97 L164.02,53.18 L164.28,53.53 L164.54,53.49 L164.80,52.45 L165.06,53.56 L165.31,52.29 L165.57,52.46 L165.83,51.07 L166.09,50.39 L166.35,51.21 L166.60,52.80 L166.86,52.36 L167.12,50.66 L167.38,51.68 L167.64,51.11 L167.89,50.61 L168.15,51.53 L168.41,50.00 L168.67,49.40 L168.93,47.84 L169.18,48.32 L169.44,47.84 L169.70,49.15 L169.96,48.90 L170.22,49.82 L170.47,49.47 L170.73,49.53 L170.99,49.44 L171.25,48.02 L171.51,50.93 L171.76,50.44 L172.02,48.86 L172.28,50.05 L172.54,50.06 L172.79,51.86 L173.05,52.00 L173.31,51.99 L173.57,52.23 L173.83,51.39 L174.08,51.29 L174.34,50.75 L174.60,50.44 L174.86,50.71 L175.12,52.10 L175.37,53.04 L175.63,51.43 L175.89,53.13 L176.15,53.57 L176.41,52.78 L176.66,53.45 L176.92,52.99 L177.18,56.80 L177.44,55.18 L177.70,55.02 L177.95,55.48 L178.21,54.29 L178.47,54.29 L178.73,55.79 L178.99,54.31 L179.24,54.42 L179.50,57.82 L179.76,56.75 L180.02,54.67 L180.28,55.02 L180.53,53.33 L180.79,55.45 L181.05,56.44 L181.31,56.76 L181.57,56.03 L181.82,56.06 L182.08,55.91 L182.34,56.89 L182.60,56.41 L182.86,56.04 L183.11,57.54 L183.37,56.85 L183.63,56.90 L183.89,54.94 L184.15,55.34 L184.40,54.94 L184.66,55.45 L184.92,54.46 L185.18,54.76 L185.43,54.97 L185.69,54.03 L185.95,54.82 L186.21,53.54 L186.47,52.37 L186.72,53.72 L186.98,51.84 L187.24,51.04 L187.50,51.54 L187.76,52.15 L188.01,51.79 L188.27,52.57 L188.53,52.37 L188.79,51.54 L189.05,49.50 L189.30,50.95 L189.56,51.76 L189.82,51.91 L190.08,52.55 L190.34,52.37 L190.59,53.08 L190.85,51.63 L191.11,50.98 L191.37,53.07 L191.63,52.17 L191.88,52.37 L192.14,51.08 L192.40,52.26 L192.66,52.32 L192.92,51.90 L193.17,53.46 L193.43,52.04 L193.69,51.83 L193.95,54.90 L194.21,52.72 L194.46,51.83 L194.72,53.12 L194.98,53.94 L195.24,52.23 L195.50,53.60 L195.75,53.00 L196.01,52.13 L196.27,55.43 L196.53,53.43 L196.78,51.60 L197.04,51.41 L197.30,53.60 L197.56,51.79 L197.82,53.14 L198.07,52.94 L198.33,51.48 L198.59,51.29 L198.85,51.48 L199.11,51.59 L199.36,50.91 L199.62,50.30 L199.88,49.91 L200.14,51.69 L200.40,50.76 L200.65,51.08 L200.91,51.00 L201.17,51.14 L201.43,51.39 L201.69,52.04 L201.94,52.50 L202.20,51.48 L202.46,52.55 L202.72,51.64 L202.98,53.50 L203.23,55.07 L203.49,54.51 L203.75,55.71 L204.01,54.35 L204.27,57.51 L204.52,58.10 L204.78,58.20 L205.04,56.81 L205.30,54.89 L205.56,56.25 L205.81,56.92 L206.07,56.86 L206.33,58.28 L206.59,56.29 L206.85,56.60 L207.10,57.51 L207.36,56.86 L207.62,55.71 L207.88,58.59 L208.14,56.77 L208.39,58.07 L208.65,58.57 L208.91,59.54 L209.17,58.53 L209.42,59.27 L209.68,55.44 L209.94,57.19 L210.20,58.90 L210.46,59.36 L210.71,58.77 L210.97,57.83 L211.23,58.29 L211.49,59.06 L211.75,61.64 L212.00,60.10 L212.26,59.50 L212.52,61.22 L212.78,60.60 L213.04,62.35 L213.29,61.83 L213.55,59.80 L213.81,62.06 L214.07,64.13 L214.33,60.10 L214.58,61.59 L214.84,61.05 L215.10,61.87 L215.36,60.31 L215.62,57.28 L215.87,59.36 L216.13,58.84 L216.39,60.00 L216.65,60.73 L216.91,59.18 L217.16,58.51 L217.42,58.83 L217.68,58.09 L217.94,57.80 L218.20,57.29 L218.45,55.93 L218.71,57.37 L218.97,58.32 L219.23,60.43 L219.49,60.34 L219.74,59.60 L220.00,59.68 L220.26,58.33 L220.52,58.55 L220.78,58.82 L221.03,61.02 L221.29,62.01 L221.55,60.90 L221.81,60.63 L222.06,62.25 L222.32,60.67 L222.58,62.45 L222.84,60.49 L223.10,59.08 L223.35,58.68 L223.61,60.14 L223.87,57.40 L224.13,57.07 L224.39,59.21 L224.64,57.44 L224.90,57.96 L225.16,58.31 L225.42,57.22 L225.68,58.55 L225.93,57.67 L226.19,57.46 L226.45,56.97 L226.71,55.84 L226.97,58.62 L227.22,58.34 L227.48,60.33 L227.74,59.47 L228.00,59.37 L228.26,57.82 L228.51,58.27 L228.77,58.67 L229.03,58.80 L229.29,56.84 L229.55,59.71 L229.80,57.51 L230.06,58.68 L230.32,57.22 L230.58,58.49 L230.84,55.57 L231.09,58.30 L231.35,55.76 L231.61,55.09 L231.87,55.76 L232.13,53.95 L232.38,54.05 L232.64,54.49 L232.90,51.98 L233.16,52.74 L233.42,54.16 L233.67,54.82 L233.93,55.02 L234.19,54.52 L234.45,55.60 L234.70,56.07 L234.96,55.89 L235.22,58.12 L235.48,55.75 L235.74,57.32 L235.99,58.69 L236.25,57.07 L236.51,57.13 L236.77,59.19 L237.03,58.58 L237.28,58.91 L237.54,58.74 L237.80,56.91 L238.06,56.70 L238.32,54.47 L238.57,56.04 L238.83,55.75 L239.09,55.79 L239.35,55.88 L239.61,55.03 L239.86,56.90 L240.12,56.45 L240.38,56.79 L240.64,54.43 L240.90,53.63 L241.15,53.86 L241.41,54.74 L241.67,52.38 L241.93,54.23 L242.19,54.33 L242.44,54.33 L242.70,52.04 L242.96,54.94 L243.22,53.39 L243.48,50.67 L243.73,51.36 L243.99,52.59 L244.25,53.38 L244.51,52.67 L244.77,53.36 L245.02,51.75 L245.28,52.46 L245.54,53.03 L245.80,52.64 L246.05,52.63 L246.31,52.27 L246.57,53.07 L246.83,51.60 L247.09,53.76 L247.34,51.45 L247.60,52.98 L247.86,52.95 L248.12,53.02 L248.38,53.91 L248.63,53.98 L248.89,53.04 L249.15,52.11 L249.41,55.23 L249.67,55.29 L249.92,56.16 L250.18,54.18 L250.44,52.98 L250.70,55.95 L250.96,54.83 L251.21,54.87 L251.47,55.92 L251.73,56.99 L251.99,55.64 L252.25,53.54 L252.50,55.66 L252.76,55.42 L253.02,55.91 L253.28,58.22 L253.54,57.96 L253.79,56.81 L254.05,55.89 L254.31,56.37 L254.57,57.79 L254.83,57.40 L255.08,58.26 L255.34,57.57 L255.60,56.37 L255.86,57.48 L256.12,58.88 L256.37,58.86 L256.63,58.39 L256.89,58.87 L257.15,59.93 L257.41,58.13 L257.66,57.61 L257.92,58.80 L258.18,57.78 L258.44,58.36 L258.69,57.00 L258.95,57.50 L259.21,54.73 L259.47,56.22 L259.73,56.72 L259.98,57.50 L260.24,55.76 L260.50,55.39 L260.76,55.60 L261.02,54.88 L261.27,53.89 L261.53,54.54 L261.79,52.67 L262.05,53.41 L262.31,51.81 L262.56,51.40 L262.82,51.17 L263.08,50.66 L263.34,50.95 L263.60,53.79 L263.85,53.69 L264.11,53.51 L264.37,56.17 L264.63,56.01 L264.89,54.90 L265.14,57.04 L265.40,56.69 L265.66,55.86 L265.92,56.69 L266.18,54.59 L266.43,55.07 L266.69,54.95 L266.95,58.07 L267.21,55.78 L267.47,57.33 L267.72,57.31 L267.98,57.92 L268.24,58.16 L268.50,58.75 L268.76,57.74 L269.01,58.03 L269.27,57.52 L269.53,57.47 L269.79,56.27 L270.05,58.66 L270.30,57.48 L270.56,56.17 L270.82,57.17 L271.08,58.58 L271.33,57.77 L271.59,58.26 L271.85,56.38 L272.11,55.54 L272.37,55.85 L272.62,54.46 L272.88,56.59 L273.14,55.95 L273.40,55.03 L273.66,54.21 L273.91,54.84 L274.17,54.08 L274.43,56.35 L274.69,53.28 L274.95,53.66 L275.20,54.78 L275.46,53.76 L275.72,55.74 L275.98,54.98 L276.24,54.16 L276.49,54.14 L276.75,53.15 L277.01,53.13 L277.27,55.55 L277.53,54.00 L277.78,55.05 L278.04,54.66 L278.30,53.67 L278.56,56.63 L278.82,54.96 L279.07,52.76 L279.33,55.02 L279.59,53.96 L279.85,54.43 L280.11,56.23 L280.36,55.02 L280.62,57.19 L280.88,55.51 L281.14,58.09 L281.40,58.07 L281.65,57.51 L281.91,56.54 L282.17,56.12 L282.43,56.48 L282.68,58.68 L282.94,57.33 L283.20,59.10 L283.46,57.13 L283.72,56.20 L283.97,54.96 L284.23,57.95 L284.49,57.02 L284.75,57.70 L285.01,56.47 L285.26,56.33 L285.52,54.16 L285.78,56.10 L286.04,57.39 L286.30,55.67 L286.55,56.19 L286.81,55.54 L287.07,54.44 L287.33,54.40 L287.59,54.16 L287.84,55.38 L288.10,53.97 L288.36,53.60 L288.62,53.60 L288.88,54.20 L289.13,54.61 L289.39,54.31 L289.65,52.26 L289.91,50.92 L290.17,51.58 L290.42,53.16 L290.68,51.94 L290.94,50.22 L291.20,51.43 L291.46,52.05 L291.71,50.98 L291.97,50.73 L292.23,51.27 L292.49,53.15 L292.75,52.80 L293.00,51.21 L293.26,52.29 L293.52,53.67 L293.78,54.25 L294.04,53.24 L294.29,50.97 L294.55,51.09 L294.81,54.11 L295.07,52.70 L295.32,52.89 L295.58,54.09 L295.84,53.94 L296.10,53.67 L296.36,53.79 L296.61,53.42 L296.87,54.88 L297.13,57.17 L297.39,55.42 L297.65,55.88 L297.90,57.57 L298.16,55.78 L298.42,56.25 L298.68,55.08 L298.94,55.89 L299.19,57.02 L299.45,57.78 L299.71,56.72 L299.97,56.32 L300.23,55.28 L300.48,56.99 L300.74,54.47 L301.00,54.41" stroke="#10d010" stroke-width="1.15" fill="none" stroke-linejoin="round"/>
<path d="M43.30,240.83 L43.56,236.71 L43.82,229.11 L44.07,225.04 L44.33,216.75 L44.59,210.69 L44.85,206.73 L45.11,201.04 L45.36,197.84 L45.62,191.95 L45.88,186.35 L46.14,182.60 L46.40,175.98 L46.65,174.51 L46.91,171.10 L47.17,171.97 L47.43,169.76 L47.69,169.97 L47.94,168.97 L48.20,171.00 L48.46,168.94 L48.72,165.52 L48.98,167.75 L49.23,166.86 L49.49,170.45 L49.75,169.01 L50.01,168.33 L50.26,167.86 L50.52,166.99 L50.78,165.95 L51.04,168.78 L51.30,168.40 L51.55,169.77 L51.81,170.47 L52.07,167.01 L52.33,169.72 L52.59,170.30 L52.84,170.13 L53.10,167.25 L53.36,168.61 L53.62,167.63 L53.88,165.44 L54.13,171.05 L54.39,169.99 L54.65,167.41 L54.91,166.96 L55.17,170.92 L55.42,168.55 L55.68,168.63 L55.94,169.96 L56.20,169.20 L56.46,166.38 L56.71,167.36 L56.97,165.18 L57.23,165.97 L57.49,168.75 L57.75,168.27 L58.00,166.31 L58.26,164.89 L58.52,166.72 L58.78,165.68 L59.04,166.47 L59.29,166.45 L59.55,163.49 L59.81,163.25 L60.07,167.37 L60.33,169.09 L60.58,165.77 L60.84,163.07 L61.10,162.29 L61.36,164.83 L61.62,163.73 L61.87,165.80 L62.13,167.29 L62.39,169.41 L62.65,166.34 L62.90,160.34 L63.16,165.04 L63.42,161.29 L63.68,162.60 L63.94,165.72 L64.19,164.48 L64.45,165.82 L64.71,163.72 L64.97,165.46 L65.23,165.98 L65.48,165.34 L65.74,168.10 L66.00,166.96 L66.26,166.28 L66.52,168.85 L66.77,168.67 L67.03,174.64 L67.29,171.79 L67.55,169.57 L67.81,170.03 L68.06,168.05 L68.32,166.64 L68.58,168.87 L68.84,167.09 L69.10,167.21 L69.35,166.59 L69.61,167.10 L69.87,169.38 L70.13,169.29 L70.39,170.42 L70.64,168.53 L70.90,170.73 L71.16,170.20 L71.42,164.57 L71.68,166.75 L71.93,167.77 L72.19,164.31 L72.45,169.11 L72.71,168.24 L72.97,166.28 L73.22,165.33 L73.48,164.94 L73.74,167.24 L74.00,164.96 L74.25,167.30 L74.51,163.17 L74.77,167.98 L75.03,164.64 L75.29,160.34 L75.54,164.55 L75.80,162.98 L76.06,167.33 L76.32,165.14 L76.58,166.89 L76.83,166.81 L77.09,169.89 L77.35,170.61 L77.61,169.62 L77.87,168.28 L78.12,167.95 L78.38,165.78 L78.64,167.42 L78.90,168.72 L79.16,166.77 L79.41,162.01 L79.67,163.62 L79.93,161.98 L80.19,165.04 L80.45,163.46 L80.70,163.75 L80.96,165.15 L81.22,168.31 L81.48,166.58 L81.74,165.32 L81.99,166.97 L82.25,165.58 L82.51,166.86 L82.77,169.77 L83.03,169.50 L83.28,171.75 L83.54,166.99 L83.80,170.40 L84.06,172.13 L84.32,170.15 L84.57,169.75 L84.83,171.45 L85.09,169.04 L85.35,170.80 L85.61,169.38 L85.86,167.24 L86.12,167.49 L86.38,169.07 L86.64,165.08 L86.89,165.27 L87.15,173.38 L87.41,174.20 L87.67,173.29 L87.93,172.96 L88.18,174.56 L88.44,175.99 L88.70,174.46 L88.96,177.83 L89.22,176.07 L89.47,178.70 L89.73,176.71 L89.99,170.80 L90.25,166.79 L90.51,170.00 L90.76,173.25 L91.02,168.80 L91.28,171.90 L91.54,175.32 L91.80,169.15 L92.05,169.76 L92.31,167.95 L92.57,170.24 L92.83,168.68 L93.09,168.14 L93.34,166.76 L93.60,163.68 L93.86,164.42 L94.12,169.30 L94.38,168.02 L94.63,169.59 L94.89,167.67 L95.15,168.71 L95.41,169.39 L95.67,165.94 L95.92,166.78 L96.18,166.88 L96.44,168.26 L96.70,168.71 L96.96,170.33 L97.21,166.82 L97.47,166.43 L97.73,163.39 L97.99,166.57 L98.25,165.62 L98.50,166.12 L98.76,166.61 L99.02,168.24 L99.28,168.19 L99.53,169.00 L99.79,170.97 L100.05,172.86 L100.31,170.88 L100.57,171.36 L100.82,168.09 L101.08,167.74 L101.34,169.98 L101.60,166.51 L101.86,164.81 L102.11,164.25 L102.37,163.25 L102.63,166.84 L102.89,165.35 L103.15,165.46 L103.40,165.06 L103.66,160.56 L103.92,161.70 L104.18,159.57 L104.44,164.62 L104.69,163.81 L104.95,162.21 L105.21,168.01 L105.47,163.71 L105.73,163.61 L105.98,165.43 L106.24,159.79 L106.50,163.03 L106.76,163.09 L107.02,162.66 L107.27,164.06 L107.53,167.90 L107.79,165.07 L108.05,161.36 L108.31,162.11 L108.56,162.20 L108.82,163.80 L109.08,162.70 L109.34,160.71 L109.60,163.57 L109.85,163.39 L110.11,160.42 L110.37,161.70 L110.63,164.07 L110.88,163.84 L111.14,165.09 L111.40,165.38 L111.66,163.19 L111.92,163.27 L112.17,166.23 L112.43,164.94 L112.69,165.42 L112.95,165.28 L113.21,162.90 L113.46,164.88 L113.72,164.67 L113.98,161.19 L114.24,163.97 L114.50,165.47 L114.75,166.98 L115.01,164.08 L115.27,163.29 L115.53,166.86 L115.79,160.72 L116.04,161.38 L116.30,159.67 L116.56,158.14 L116.82,157.00 L117.08,159.17 L117.33,161.78 L117.59,164.53 L117.85,165.20 L118.11,163.87 L118.37,164.41 L118.62,161.88 L118.88,163.50 L119.14,159.82 L119.40,163.52 L119.66,166.33 L119.91,168.98 L120.17,168.57 L120.43,164.42 L120.69,167.91 L120.95,164.61 L121.20,164.86 L121.46,168.31 L121.72,164.06 L121.98,165.43 L122.24,166.00 L122.49,164.42 L122.75,163.73 L123.01,165.97 L123.27,164.94 L123.52,165.81 L123.78,166.26 L124.04,163.94 L124.30,163.55 L124.56,165.08 L124.81,162.10 L125.07,161.76 L125.33,164.61 L125.59,163.72 L125.85,161.86 L126.10,164.73 L126.36,166.72 L126.62,163.99 L126.88,163.22 L127.14,165.97 L127.39,169.27 L127.65,164.57 L127.91,163.16 L128.17,164.52 L128.43,163.53 L128.68,164.19 L128.94,164.86 L129.20,167.89 L129.46,162.40 L129.72,158.61 L129.97,160.26 L130.23,163.88 L130.49,164.94 L130.75,163.91 L131.01,166.25 L131.26,166.80 L131.52,166.98 L131.78,165.36 L132.04,165.72 L132.30,167.63 L132.55,167.40 L132.81,170.17 L133.07,166.31 L133.33,168.20 L133.59,166.94 L133.84,166.63 L134.10,166.53 L134.36,165.92 L134.62,168.59 L134.88,169.63 L135.13,169.75 L135.39,167.11 L135.65,169.12 L135.91,167.18 L136.16,166.31 L136.42,165.41 L136.68,169.16 L136.94,168.58 L137.20,168.17 L137.45,166.23 L137.71,166.18 L137.97,169.28 L138.23,169.37 L138.49,165.97 L138.74,164.88 L139.00,163.98 L139.26,166.37 L139.52,166.31 L139.78,168.33 L140.03,172.17 L140.29,169.99 L140.55,169.15 L140.81,165.88 L141.07,168.20 L141.32,169.51 L141.58,167.40 L141.84,171.03 L142.10,168.03 L142.36,169.25 L142.61,169.53 L142.87,164.93 L143.13,163.54 L143.39,163.08 L143.65,162.91 L143.90,163.80 L144.16,167.78 L144.42,169.65 L144.68,169.14 L144.94,166.97 L145.19,167.03 L145.45,168.57 L145.71,167.29 L145.97,166.56 L146.23,166.60 L146.48,168.41 L146.74,165.02 L147.00,167.16 L147.26,164.91 L147.52,165.82 L147.77,166.26 L148.03,169.45 L148.29,171.71 L148.55,170.15 L148.80,167.61 L149.06,164.88 L149.32,167.73 L149.58,165.31 L149.84,165.11 L150.09,161.60 L150.35,167.58 L150.61,167.31 L150.87,166.60 L151.13,168.12 L151.38,166.03 L151.64,163.61 L151.90,165.82 L152.16,165.18 L152.42,169.35 L152.67,167.09 L152.93,165.30 L153.19,165.38 L153.45,166.22 L153.71,167.52 L153.96,166.10 L154.22,162.32 L154.48,164.44 L154.74,164.81 L155.00,167.70 L155.25,163.08 L155.51,160.11 L155.77,166.13 L156.03,164.78 L156.29,166.91 L156.54,165.53 L156.80,164.87 L157.06,163.45 L157.32,163.04 L157.58,163.57 L157.83,163.82 L158.09,167.92 L158.35,165.04 L158.61,165.70 L158.87,167.82 L159.12,162.61 L159.38,161.58 L159.64,165.29 L159.90,161.98 L160.15,163.88 L160.41,161.41 L160.67,163.17 L160.93,163.52 L161.19,166.18 L161.44,161.67 L161.70,163.03 L161.96,162.83 L162.22,163.82 L162.48,163.43 L162.73,166.00 L162.99,166.93 L163.25,167.73 L163.51,162.60 L163.77,159.72 L164.02,163.71 L164.28,160.31 L164.54,165.26 L164.80,162.29 L165.06,163.92 L165.31,162.78 L165.57,162.58 L165.83,162.82 L166.09,165.33 L166.35,162.85 L166.60,167.27 L166.86,166.73 L167.12,163.91 L167.38,167.06 L167.64,168.79 L167.89,169.14 L168.15,170.68 L168.41,166.69 L168.67,169.16 L168.93,167.14 L169.18,168.16 L169.44,166.48 L169.70,160.55 L169.96,163.29 L170.22,167.61 L170.47,165.02 L170.73,165.93 L170.99,163.98 L171.25,167.60 L171.51,172.34 L171.76,166.67 L172.02,168.19 L172.28,168.58 L172.54,164.18 L172.79,165.38 L173.05,171.14 L173.31,172.36 L173.57,169.70 L173.83,164.50 L174.08,166.40 L174.34,165.54 L174.60,166.48 L174.86,168.67 L175.12,174.57 L175.37,168.98 L175.63,168.21 L175.89,166.13 L176.15,165.04 L176.41,163.10 L176.66,166.56 L176.92,166.49 L177.18,169.08 L177.44,164.27 L177.70,164.49 L177.95,163.42 L178.21,165.93 L178.47,165.97 L178.73,166.52 L178.99,161.40 L179.24,165.45 L179.50,168.58 L179.76,167.55 L180.02,165.81 L180.28,166.25 L180.53,163.60 L180.79,158.31 L181.05,159.62 L181.31,156.26 L181.57,157.05 L181.82,159.00 L182.08,159.91 L182.34,161.56 L182.60,165.18 L182.86,165.72 L183.11,163.71 L183.37,166.12 L183.63,159.74 L183.89,161.49 L184.15,166.15 L184.40,168.82 L184.66,165.93 L184.92,166.60 L185.18,165.14 L185.43,164.19 L185.69,167.02 L185.95,161.48 L186.21,163.05 L186.47,166.84 L186.72,166.66 L186.98,164.44 L187.24,165.28 L187.50,163.04 L187.76,168.11 L188.01,168.79 L188.27,164.35 L188.53,165.94 L188.79,170.47 L189.05,167.38 L189.30,171.22 L189.56,167.15 L189.82,169.98 L190.08,169.40 L190.34,164.98 L190.59,165.56 L190.85,166.80 L191.11,166.75 L191.37,165.77 L191.63,167.79 L191.88,165.00 L192.14,167.24 L192.40,164.87 L192.66,164.64 L192.92,169.77 L193.17,165.45 L193.43,167.15 L193.69,167.88 L193.95,167.80 L194.21,171.97 L194.46,170.86 L194.72,169.60 L194.98,167.35 L195.24,166.82 L195.50,169.43 L195.75,170.27 L196.01,168.30 L196.27,166.10 L196.53,168.25 L196.78,170.00 L197.04,168.38 L197.30,171.56 L197.56,167.82 L197.82,166.24 L198.07,165.89 L198.33,168.42 L198.59,166.46 L198.85,165.52 L199.11,164.38 L199.36,170.60 L199.62,169.98 L199.88,171.47 L200.14,168.85 L200.40,167.86 L200.65,167.74 L200.91,166.64 L201.17,164.50 L201.43,166.53 L201.69,166.17 L201.94,167.42 L202.20,168.14 L202.46,169.83 L202.72,167.88 L202.98,167.49 L203.23,164.90 L203.49,166.50 L203.75,170.38 L204.01,167.01 L204.27,165.29 L204.52,170.49 L204.78,171.02 L205.04,169.13 L205.30,171.77 L205.56,169.02 L205.81,168.82 L206.07,170.37 L206.33,169.31 L206.59,167.69 L206.85,168.15 L207.10,171.10 L207.36,170.03 L207.62,168.38 L207.88,168.21 L208.14,166.94 L208.39,166.45 L208.65,164.36 L208.91,163.03 L209.17,167.60 L209.42,164.90 L209.68,165.44 L209.94,168.07 L210.20,167.89 L210.46,172.21 L210.71,169.40 L210.97,168.45 L211.23,166.10 L211.49,164.65 L211.75,166.48 L212.00,161.92 L212.26,165.13 L212.52,167.30 L212.78,170.11 L213.04,167.51 L213.29,167.09 L213.55,164.57 L213.81,166.64 L214.07,161.29 L214.33,164.27 L214.58,168.97 L214.84,166.57 L215.10,169.60 L215.36,166.79 L215.62,167.88 L215.87,165.60 L216.13,166.26 L216.39,165.72 L216.65,165.70 L216.91,168.23 L217.16,167.35 L217.42,167.23 L217.68,166.75 L217.94,167.15 L218.20,164.20 L218.45,166.79 L218.71,167.38 L218.97,167.48 L219.23,164.38 L219.49,162.54 L219.74,164.80 L220.00,165.73 L220.26,163.19 L220.52,166.88 L220.78,163.96 L221.03,166.29 L221.29,160.65 L221.55,162.56 L221.81,162.55 L222.06,162.88 L222.32,160.30 L222.58,162.79 L222.84,163.97 L223.10,165.87 L223.35,164.44 L223.61,167.00 L223.87,166.73 L224.13,162.95 L224.39,166.86 L224.64,166.07 L224.90,164.24 L225.16,166.69 L225.42,165.46 L225.68,167.48 L225.93,167.24 L226.19,163.66 L226.45,164.85 L226.71,166.66 L226.97,161.37 L227.22,160.78 L227.48,166.28 L227.74,165.21 L228.00,165.75 L228.26,165.55 L228.51,164.04 L228.77,161.86 L229.03,165.20 L229.29,165.29 L229.55,166.01 L229.80,166.82 L230.06,165.72 L230.32,167.95 L230.58,168.89 L230.84,164.58 L231.09,166.84 L231.35,168.48 L231.61,168.60 L231.87,167.94 L232.13,167.96 L232.38,162.28 L232.64,164.93 L232.90,166.22 L233.16,166.60 L233.42,163.80 L233.67,166.00 L233.93,167.23 L234.19,163.53 L234.45,164.16 L234.70,166.13 L234.96,163.69 L235.22,164.13 L235.48,163.57 L235.74,161.56 L235.99,163.42 L236.25,165.29 L236.51,166.23 L236.77,166.64 L237.03,168.48 L237.28,165.68 L237.54,168.86 L237.80,165.32 L238.06,165.27 L238.32,165.59 L238.57,164.52 L238.83,164.26 L239.09,161.85 L239.35,162.11 L239.61,160.47 L239.86,164.98 L240.12,164.08 L240.38,162.29 L240.64,163.46 L240.90,163.95 L241.15,162.94 L241.41,163.07 L241.67,162.67 L241.93,155.72 L242.19,157.82 L242.44,161.89 L242.70,156.60 L242.96,158.97 L243.22,161.93 L243.48,161.80 L243.73,166.48 L243.99,165.93 L244.25,168.58 L244.51,168.81 L244.77,169.11 L245.02,164.71 L245.28,166.17 L245.54,164.11 L245.80,162.59 L246.05,160.49 L246.31,165.16 L246.57,164.83 L246.83,164.79 L247.09,165.22 L247.34,161.55 L247.60,163.36 L247.86,164.40 L248.12,160.34 L248.38,160.41 L248.63,163.64 L248.89,164.98 L249.15,166.57 L249.41,169.47 L249.67,170.73 L249.92,168.80 L250.18,166.68 L250.44,163.61 L250.70,163.22 L250.96,160.41 L251.21,163.43 L251.47,166.97 L251.73,168.81 L251.99,167.83 L252.25,164.03 L252.50,163.54 L252.76,164.57 L253.02,165.08 L253.28,167.73 L253.54,169.64 L253.79,169.10 L254.05,165.90 L254.31,167.44 L254.57,166.09 L254.83,163.52 L255.08,167.96 L255.34,165.33 L255.60,167.56 L255.86,166.74 L256.12,166.73 L256.37,165.78 L256.63,168.39 L256.89,166.62 L257.15,170.21 L257.41,167.77 L257.66,167.84 L257.92,166.14 L258.18,165.09 L258.44,172.00 L258.69,172.24 L258.95,172.03 L259.21,175.05 L259.47,175.50 L259.73,174.22 L259.98,175.65 L260.24,176.51 L260.50,174.05 L260.76,173.38 L261.02,170.45 L261.27,170.10 L261.53,174.23 L261.79,168.02 L262.05,169.13 L262.31,167.50 L262.56,168.35 L262.82,165.03 L263.08,168.38 L263.34,168.05 L263.60,165.52 L263.85,165.49 L264.11,162.70 L264.37,161.02 L264.63,159.68 L264.89,161.47 L265.14,163.39 L265.40,163.32 L265.66,165.96 L265.92,166.20 L266.18,168.26 L266.43,169.38 L266.69,166.50 L266.95,164.52 L267.21,162.60 L267.47,165.97 L267.72,163.81 L267.98,162.99 L268.24,167.53 L268.50,166.10 L268.76,166.89 L269.01,166.25 L269.27,166.66 L269.53,168.68 L269.79,167.00 L270.05,168.74 L270.30,163.21 L270.56,164.35 L270.82,169.76 L271.08,169.93 L271.33,167.69 L271.59,165.73 L271.85,167.30 L272.11,165.46 L272.37,162.74 L272.62,164.23 L272.88,167.94 L273.14,169.76 L273.40,168.75 L273.66,166.65 L273.91,171.74 L274.17,167.73 L274.43,164.38 L274.69,163.48 L274.95,167.16 L275.20,168.08 L275.46,169.47 L275.72,169.42 L275.98,168.41 L276.24,167.69 L276.49,164.43 L276.75,169.55 L277.01,168.43 L277.27,167.99 L277.53,169.33 L277.78,168.51 L278.04,168.32 L278.30,170.23 L278.56,168.34 L278.82,167.17 L279.07,166.01 L279.33,165.69 L279.59,166.16 L279.85,167.51 L280.11,167.60 L280.36,168.66 L280.62,169.05 L280.88,168.80 L281.14,168.69 L281.40,168.02 L281.65,167.90 L281.91,167.34 L282.17,163.51 L282.43,169.64 L282.68,165.27 L282.94,167.78 L283.20,167.38 L283.46,169.26 L283.72,168.29 L283.97,166.17 L284.23,167.55 L284.49,169.11 L284.75,167.02 L285.01,168.70 L285.26,166.89 L285.52,168.24 L285.78,169.68 L286.04,164.99 L286.30,164.63 L286.55,166.75 L286.81,168.53 L287.07,169.03 L287.33,165.33 L287.59,168.84 L287.84,167.18 L288.10,167.90 L288.36,168.28 L288.62,163.56 L288.88,169.03 L289.13,167.07 L289.39,164.47 L289.65,162.35 L289.91,167.78 L290.17,168.67 L290.42,165.92 L290.68,164.03 L290.94,165.28 L291.20,165.36 L291.46,161.41 L291.71,165.31 L291.97,163.62 L292.23,162.38 L292.49,165.74 L292.75,165.91 L293.00,165.87 L293.26,167.12 L293.52,164.98 L293.78,168.33 L294.04,168.50 L294.29,168.31 L294.55,169.66 L294.81,161.63 L295.07,164.14 L295.32,165.27 L295.58,165.87 L295.84,164.17 L296.10,168.14 L296.36,167.32 L296.61,167.09 L296.87,166.43 L297.13,166.78 L297.39,164.07 L297.65,166.88 L297.90,166.42 L298.16,163.07 L298.42,163.78 L298.68,164.69 L298.94,164.96 L299.19,166.79 L299.45,165.78 L299.71,170.67 L299.97,169.77 L300.23,164.67 L300.48,166.94 L300.74,169.91 L301.00,167.11" stroke="#e81010" stroke-width="1.15" fill="none" stroke-linejoin="round"/>
<path d="M43.30,240.03 L43.56,240.48 L43.82,241.09 L44.07,235.92 L44.33,240.74 L44.59,240.21 L44.85,240.98 L45.11,239.44 L45.36,239.82 L45.62,241.81 L45.88,239.74 L46.14,236.69 L46.40,242.16 L46.65,239.25 L46.91,240.87 L47.17,240.79 L47.43,243.38 L47.69,244.48 L47.94,243.13 L48.20,242.40 L48.46,245.98 L48.72,243.80 L48.98,247.16 L49.23,238.90 L49.49,243.97 L49.75,242.60 L50.01,239.62 L50.26,240.60 L50.52,243.33 L50.78,241.82 L51.04,242.48 L51.30,243.91 L51.55,239.35 L51.81,242.71 L52.07,240.74 L52.33,242.13 L52.59,241.16 L52.84,241.87 L53.10,242.16 L53.36,242.01 L53.62,244.81 L53.88,247.53 L54.13,244.08 L54.39,243.05 L54.65,240.25 L54.91,238.81 L55.17,238.68 L55.42,240.73 L55.68,240.38 L55.94,239.42 L56.20,242.72 L56.46,242.82 L56.71,240.98 L56.97,243.70 L57.23,242.96 L57.49,240.42 L57.75,242.75 L58.00,240.71 L58.26,242.33 L58.52,239.65 L58.78,241.85 L59.04,241.80 L59.29,240.98 L59.55,243.05 L59.81,242.08 L60.07,243.66 L60.33,242.60 L60.58,241.20 L60.84,239.88 L61.10,240.30 L61.36,242.74 L61.62,237.22 L61.87,241.27 L62.13,240.12 L62.39,241.99 L62.65,239.54 L62.90,239.27 L63.16,241.55 L63.42,238.72 L63.68,234.62 L63.94,237.84 L64.19,237.89 L64.45,242.39 L64.71,239.80 L64.97,245.38 L65.23,244.39 L65.48,243.35 L65.74,244.14 L66.00,242.35 L66.26,242.55 L66.52,244.57 L66.77,243.09 L67.03,244.04 L67.29,240.70 L67.55,240.13 L67.81,244.16 L68.06,240.07 L68.32,241.66 L68.58,242.37 L68.84,239.63 L69.10,239.81 L69.35,241.34 L69.61,244.34 L69.87,239.93 L70.13,240.34 L70.39,242.53 L70.64,242.89 L70.90,244.29 L71.16,240.00 L71.42,242.29 L71.68,241.04 L71.93,245.56 L72.19,244.26 L72.45,241.03 L72.71,242.18 L72.97,240.65 L73.22,239.19 L73.48,240.24 L73.74,240.42 L74.00,242.00 L74.25,244.02 L74.51,238.42 L74.77,240.02 L75.03,240.90 L75.29,242.14 L75.54,240.04 L75.80,239.11 L76.06,240.73 L76.32,241.06 L76.58,242.42 L76.83,241.35 L77.09,242.69 L77.35,241.50 L77.61,242.49 L77.87,242.14 L78.12,242.78 L78.38,240.49 L78.64,243.30 L78.90,242.73 L79.16,242.35 L79.41,240.17 L79.67,242.07 L79.93,244.68 L80.19,239.39 L80.45,241.44 L80.70,242.17 L80.96,241.08 L81.22,238.13 L81.48,242.50 L81.74,242.27 L81.99,239.58 L82.25,242.09 L82.51,240.58 L82.77,240.39 L83.03,245.04 L83.28,243.11 L83.54,241.59 L83.80,238.80 L84.06,241.25 L84.32,237.45 L84.57,240.48 L84.83,241.44 L85.09,240.53 L85.35,240.79 L85.61,243.35 L85.86,242.63 L86.12,244.82 L86.38,240.57 L86.64,242.73 L86.89,240.33 L87.15,241.10 L87.41,239.50 L87.67,238.34 L87.93,241.26 L88.18,241.61 L88.44,240.26 L88.70,238.64 L88.96,239.42 L89.22,241.79 L89.47,240.55 L89.73,239.64 L89.99,241.19 L90.25,238.34 L90.51,239.76 L90.76,240.18 L91.02,238.81 L91.28,240.91 L91.54,238.13 L91.80,238.39 L92.05,238.11 L92.31,241.46 L92.57,241.02 L92.83,243.67 L93.09,241.10 L93.34,239.04 L93.60,239.84 L93.86,239.94 L94.12,240.21 L94.38,241.06 L94.63,241.61 L94.89,239.28 L95.15,240.85 L95.41,238.61 L95.67,238.91 L95.92,238.66 L96.18,239.08 L96.44,241.58 L96.70,239.04 L96.96,241.35 L97.21,241.42 L97.47,240.80 L97.73,238.83 L97.99,239.15 L98.25,241.15 L98.50,240.43 L98.76,241.41 L99.02,242.16 L99.28,240.45 L99.53,242.93 L99.79,240.37 L100.05,240.99 L100.31,241.00 L100.57,240.22 L100.82,241.33 L101.08,240.45 L101.34,239.91 L101.60,242.00 L101.86,241.86 L102.11,241.67 L102.37,242.31 L102.63,242.25 L102.89,238.89 L103.15,239.02 L103.40,237.93 L103.66,238.43 L103.92,237.89 L104.18,239.08 L104.44,239.17 L104.69,239.05 L104.95,240.72 L105.21,240.87 L105.47,237.88 L105.73,244.30 L105.98,243.61 L106.24,239.40 L106.50,241.66 L106.76,240.40 L107.02,243.67 L107.27,238.46 L107.53,238.71 L107.79,238.81 L108.05,239.17 L108.31,243.15 L108.56,238.35 L108.82,238.65 L109.08,240.03 L109.34,241.11 L109.60,242.13 L109.85,241.31 L110.11,243.96 L110.37,238.86 L110.63,237.02 L110.88,240.65 L111.14,241.69 L111.40,239.50 L111.66,239.02 L111.92,239.87 L112.17,240.67 L112.43,241.81 L112.69,241.55 L112.95,242.91 L113.21,240.32 L113.46,245.04 L113.72,243.48 L113.98,244.19 L114.24,242.56 L114.50,242.57 L114.75,243.45 L115.01,243.09 L115.27,241.48 L115.53,240.51 L115.79,239.36 L116.04,237.09 L116.30,240.57 L116.56,237.94 L116.82,239.99 L117.08,239.57 L117.33,241.31 L117.59,241.74 L117.85,242.78 L118.11,241.92 L118.37,243.65 L118.62,240.65 L118.88,243.42 L119.14,240.78 L119.40,238.26 L119.66,240.61 L119.91,243.64 L120.17,239.97 L120.43,241.21 L120.69,242.56 L120.95,241.84 L121.20,240.36 L121.46,238.11 L121.72,241.32 L121.98,242.15 L122.24,241.79 L122.49,240.97 L122.75,243.03 L123.01,242.10 L123.27,239.75 L123.52,242.03 L123.78,238.29 L124.04,241.39 L124.30,236.45 L124.56,242.79 L124.81,240.74 L125.07,240.66 L125.33,242.10 L125.59,242.22 L125.85,243.05 L126.10,244.09 L126.36,239.32 L126.62,242.95 L126.88,241.51 L127.14,240.72 L127.39,243.14 L127.65,241.77 L127.91,245.26 L128.17,243.47 L128.43,241.56 L128.68,240.29 L128.94,243.76 L129.20,238.61 L129.46,239.89 L129.72,239.73 L129.97,236.68 L130.23,239.03 L130.49,240.46 L130.75,241.98 L131.01,242.38 L131.26,238.56 L131.52,241.37 L131.78,241.43 L132.04,240.07 L132.30,239.56 L132.55,245.33 L132.81,241.27 L133.07,238.96 L133.33,239.73 L133.59,240.40 L133.84,240.25 L134.10,240.01 L134.36,243.05 L134.62,240.78 L134.88,239.37 L135.13,239.21 L135.39,238.72 L135.65,239.96 L135.91,244.25 L136.16,244.38 L136.42,240.23 L136.68,239.16 L136.94,240.66 L137.20,238.06 L137.45,238.71 L137.71,242.11 L137.97,241.27 L138.23,238.85 L138.49,238.06 L138.74,240.71 L139.00,240.16 L139.26,239.14 L139.52,241.19 L139.78,239.79 L140.03,235.48 L140.29,240.36 L140.55,241.06 L140.81,240.64 L141.07,240.61 L141.32,242.70 L141.58,240.19 L141.84,240.32 L142.10,240.92 L142.36,243.94 L142.61,242.13 L142.87,241.65 L143.13,239.84 L143.39,240.37 L143.65,242.78 L143.90,244.48 L144.16,240.16 L144.42,238.96 L144.68,240.33 L144.94,241.79 L145.19,239.86 L145.45,237.98 L145.71,237.43 L145.97,236.99 L146.23,242.64 L146.48,244.34 L146.74,242.37 L147.00,240.77 L147.26,240.30 L147.52,241.53 L147.77,241.23 L148.03,238.91 L148.29,241.11 L148.55,242.99 L148.80,241.31 L149.06,238.72 L149.32,238.72 L149.58,239.93 L149.84,240.65 L150.09,240.87 L150.35,242.15 L150.61,243.65 L150.87,241.87 L151.13,242.45 L151.38,243.87 L151.64,242.49 L151.90,244.02 L152.16,241.42 L152.42,242.08 L152.67,240.32 L152.93,242.12 L153.19,240.99 L153.45,239.63 L153.71,242.64 L153.96,241.08 L154.22,242.29 L154.48,245.63 L154.74,241.92 L155.00,244.67 L155.25,242.87 L155.51,244.00 L155.77,243.00 L156.03,240.64 L156.29,243.42 L156.54,241.32 L156.80,242.50 L157.06,241.91 L157.32,240.53 L157.58,240.51 L157.83,241.21 L158.09,243.08 L158.35,239.45 L158.61,241.82 L158.87,243.60 L159.12,241.35 L159.38,240.76 L159.64,243.53 L159.90,244.54 L160.15,242.75 L160.41,240.36 L160.67,240.72 L160.93,241.32 L161.19,243.94 L161.44,240.48 L161.70,240.88 L161.96,241.72 L162.22,240.62 L162.48,241.50 L162.73,241.07 L162.99,240.29 L163.25,238.74 L163.51,239.61 L163.77,241.01 L164.02,238.59 L164.28,241.18 L164.54,240.88 L164.80,238.58 L165.06,239.90 L165.31,242.36 L165.57,242.30 L165.83,242.58 L166.09,240.94 L166.35,244.05 L166.60,242.96 L166.86,240.69 L167.12,240.46 L167.38,240.84 L167.64,243.61 L167.89,240.67 L168.15,242.86 L168.41,243.28 L168.67,241.87 L168.93,242.79 L169.18,241.91 L169.44,242.11 L169.70,239.60 L169.96,241.24 L170.22,239.86 L170.47,242.72 L170.73,244.27 L170.99,244.66 L171.25,244.44 L171.51,244.05 L171.76,242.22 L172.02,240.90 L172.28,243.66 L172.54,241.00 L172.79,240.26 L173.05,240.13 L173.31,245.06 L173.57,244.27 L173.83,243.65 L174.08,240.15 L174.34,241.75 L174.60,242.00 L174.86,241.04 L175.12,241.73 L175.37,242.24 L175.63,242.89 L175.89,241.07 L176.15,239.81 L176.41,238.44 L176.66,242.29 L176.92,237.56 L177.18,241.16 L177.44,243.23 L177.70,239.61 L177.95,242.59 L178.21,238.13 L178.47,241.29 L178.73,239.76 L178.99,241.35 L179.24,240.64 L179.50,237.92 L179.76,240.41 L180.02,239.72 L180.28,241.57 L180.53,242.47 L180.79,238.81 L181.05,241.77 L181.31,244.75 L181.57,240.39 L181.82,242.47 L182.08,241.97 L182.34,242.46 L182.60,241.67 L182.86,241.16 L183.11,237.96 L183.37,240.36 L183.63,242.66 L183.89,240.12 L184.15,240.68 L184.40,240.34 L184.66,239.85 L184.92,242.84 L185.18,241.29 L185.43,241.30 L185.69,241.51 L185.95,242.84 L186.21,242.67 L186.47,241.89 L186.72,241.02 L186.98,237.81 L187.24,239.76 L187.50,242.30 L187.76,242.41 L188.01,240.94 L188.27,240.78 L188.53,241.45 L188.79,243.88 L189.05,242.30 L189.30,239.62 L189.56,240.78 L189.82,243.24 L190.08,241.50 L190.34,240.37 L190.59,241.15 L190.85,242.62 L191.11,240.71 L191.37,241.69 L191.63,239.93 L191.88,240.26 L192.14,241.57 L192.40,240.11 L192.66,237.60 L192.92,239.48 L193.17,239.48 L193.43,242.54 L193.69,243.14 L193.95,243.92 L194.21,240.73 L194.46,240.42 L194.72,241.56 L194.98,240.28 L195.24,241.61 L195.50,240.94 L195.75,241.96 L196.01,244.90 L196.27,245.52 L196.53,241.84 L196.78,243.97 L197.04,244.94 L197.30,242.09 L197.56,243.10 L197.82,240.47 L198.07,241.75 L198.33,241.35 L198.59,241.74 L198.85,242.01 L199.11,239.21 L199.36,239.25 L199.62,241.35 L199.88,241.82 L200.14,239.06 L200.40,240.80 L200.65,238.47 L200.91,242.88 L201.17,240.44 L201.43,241.39 L201.69,244.09 L201.94,240.96 L202.20,239.93 L202.46,243.39 L202.72,239.72 L202.98,238.71 L203.23,239.61 L203.49,243.01 L203.75,242.46 L204.01,242.10 L204.27,239.54 L204.52,242.10 L204.78,240.95 L205.04,239.63 L205.30,243.48 L205.56,243.53 L205.81,240.54 L206.07,240.80 L206.33,241.82 L206.59,240.62 L206.85,240.04 L207.10,239.53 L207.36,243.44 L207.62,242.83 L207.88,238.40 L208.14,240.95 L208.39,238.37 L208.65,241.61 L208.91,241.44 L209.17,242.16 L209.42,241.77 L209.68,239.54 L209.94,242.88 L210.20,243.14 L210.46,244.76 L210.71,243.74 L210.97,241.93 L211.23,243.41 L211.49,241.32 L211.75,241.59 L212.00,242.29 L212.26,240.22 L212.52,240.06 L212.78,242.44 L213.04,241.83 L213.29,242.19 L213.55,243.09 L213.81,240.05 L214.07,243.52 L214.33,246.14 L214.58,245.00 L214.84,243.66 L215.10,243.91 L215.36,243.76 L215.62,242.18 L215.87,239.96 L216.13,239.74 L216.39,242.11 L216.65,238.16 L216.91,243.72 L217.16,239.70 L217.42,242.19 L217.68,241.78 L217.94,242.01 L218.20,240.24 L218.45,241.92 L218.71,240.97 L218.97,240.60 L219.23,242.91 L219.49,243.84 L219.74,242.57 L220.00,242.72 L220.26,241.90 L220.52,239.87 L220.78,243.30 L221.03,237.28 L221.29,241.49 L221.55,240.55 L221.81,242.47 L222.06,244.21 L222.32,247.78 L222.58,244.69 L222.84,244.47 L223.10,241.76 L223.35,240.11 L223.61,241.22 L223.87,242.36 L224.13,240.65 L224.39,239.15 L224.64,242.52 L224.90,238.37 L225.16,238.97 L225.42,241.81 L225.68,240.13 L225.93,240.30 L226.19,242.22 L226.45,241.57 L226.71,240.10 L226.97,241.14 L227.22,238.67 L227.48,241.78 L227.74,239.77 L228.00,239.28 L228.26,240.32 L228.51,239.27 L228.77,243.58 L229.03,240.03 L229.29,239.40 L229.55,239.59 L229.80,239.94 L230.06,240.20 L230.32,243.29 L230.58,242.88 L230.84,244.55 L231.09,237.98 L231.35,242.08 L231.61,239.51 L231.87,242.72 L232.13,241.31 L232.38,238.19 L232.64,241.83 L232.90,240.62 L233.16,243.99 L233.42,240.59 L233.67,241.19 L233.93,243.60 L234.19,243.34 L234.45,242.67 L234.70,239.26 L234.96,241.14 L235.22,240.35 L235.48,240.75 L235.74,240.28 L235.99,239.55 L236.25,237.52 L236.51,238.36 L236.77,240.92 L237.03,240.50 L237.28,238.79 L237.54,243.59 L237.80,241.51 L238.06,241.87 L238.32,240.64 L238.57,243.26 L238.83,239.21 L239.09,243.39 L239.35,241.09 L239.61,239.78 L239.86,242.96 L240.12,244.02 L240.38,243.02 L240.64,240.90 L240.90,240.18 L241.15,244.12 L241.41,241.29 L241.67,240.50 L241.93,243.13 L242.19,243.97 L242.44,239.78 L242.70,242.04 L242.96,240.93 L243.22,241.33 L243.48,243.14 L243.73,244.17 L243.99,240.78 L244.25,244.87 L244.51,246.96 L244.77,243.62 L245.02,240.16 L245.28,240.38 L245.54,238.71 L245.80,239.65 L246.05,240.13 L246.31,239.33 L246.57,237.33 L246.83,239.75 L247.09,238.37 L247.34,237.67 L247.60,240.43 L247.86,239.65 L248.12,242.29 L248.38,244.18 L248.63,242.01 L248.89,238.99 L249.15,244.02 L249.41,243.59 L249.67,242.99 L249.92,241.22 L250.18,240.71 L250.44,244.50 L250.70,243.51 L250.96,241.13 L251.21,237.97 L251.47,238.38 L251.73,238.39 L251.99,243.33 L252.25,240.04 L252.50,240.48 L252.76,240.08 L253.02,243.28 L253.28,245.05 L253.54,242.16 L253.79,239.46 L254.05,238.47 L254.31,239.90 L254.57,240.38 L254.83,244.38 L255.08,244.03 L255.34,242.79 L255.60,242.57 L255.86,241.36 L256.12,241.64 L256.37,240.48 L256.63,239.71 L256.89,240.92 L257.15,243.61 L257.41,244.85 L257.66,242.01 L257.92,244.27 L258.18,242.16 L258.44,243.33 L258.69,244.88 L258.95,242.49 L259.21,240.63 L259.47,244.42 L259.73,241.65 L259.98,240.19 L260.24,241.57 L260.50,245.05 L260.76,241.88 L261.02,242.33 L261.27,241.23 L261.53,243.72 L261.79,243.32 L262.05,236.56 L262.31,241.56 L262.56,242.01 L262.82,242.23 L263.08,239.91 L263.34,237.30 L263.60,239.98 L263.85,243.21 L264.11,243.68 L264.37,241.03 L264.63,240.26 L264.89,244.03 L265.14,242.29 L265.40,240.48 L265.66,239.67 L265.92,239.91 L266.18,242.56 L266.43,241.59 L266.69,243.22 L266.95,243.84 L267.21,241.72 L267.47,240.59 L267.72,241.94 L267.98,243.01 L268.24,240.37 L268.50,241.62 L268.76,242.94 L269.01,244.74 L269.27,240.45 L269.53,241.77 L269.79,240.20 L270.05,239.03 L270.30,242.56 L270.56,243.07 L270.82,242.19 L271.08,243.04 L271.33,239.95 L271.59,240.11 L271.85,240.15 L272.11,239.64 L272.37,242.03 L272.62,242.90 L272.88,244.17 L273.14,241.31 L273.40,237.89 L273.66,238.01 L273.91,239.93 L274.17,241.59 L274.43,238.06 L274.69,240.89 L274.95,241.32 L275.20,242.07 L275.46,240.21 L275.72,238.63 L275.98,244.05 L276.24,241.48 L276.49,242.31 L276.75,243.44 L277.01,243.19 L277.27,243.55 L277.53,242.22 L277.78,243.57 L278.04,241.45 L278.30,243.08 L278.56,241.54 L278.82,241.24 L279.07,240.13 L279.33,242.30 L279.59,242.96 L279.85,241.53 L280.11,239.99 L280.36,240.09 L280.62,243.41 L280.88,242.85 L281.14,241.97 L281.40,242.01 L281.65,240.08 L281.91,238.31 L282.17,241.54 L282.43,240.70 L282.68,239.55 L282.94,238.94 L283.20,242.58 L283.46,240.93 L283.72,238.92 L283.97,243.19 L284.23,246.11 L284.49,243.85 L284.75,244.34 L285.01,239.46 L285.26,244.12 L285.52,242.46 L285.78,242.29 L286.04,243.43 L286.30,245.77 L286.55,240.79 L286.81,241.32 L287.07,244.52 L287.33,241.77 L287.59,244.78 L287.84,240.83 L288.10,241.13 L288.36,242.36 L288.62,244.11 L288.88,244.45 L289.13,245.40 L289.39,239.19 L289.65,241.29 L289.91,241.86 L290.17,241.40 L290.42,242.38 L290.68,239.34 L290.94,240.47 L291.20,244.97 L291.46,243.35 L291.71,245.94 L291.97,242.71 L292.23,245.21 L292.49,239.12 L292.75,241.14 L293.00,241.00 L293.26,242.07 L293.52,241.04 L293.78,242.60 L294.04,242.78 L294.29,242.56 L294.55,245.02 L294.81,243.11 L295.07,243.74 L295.32,244.92 L295.58,243.44 L295.84,241.88 L296.10,242.59 L296.36,243.79 L296.61,243.36 L296.87,242.14 L297.13,244.44 L297.39,242.92 L297.65,243.12 L297.90,242.68 L298.16,239.86 L298.42,238.89 L298.68,240.85 L298.94,241.29 L299.19,243.03 L299.45,242.06 L299.71,243.97 L299.97,240.16 L300.23,242.94 L300.48,242.00 L300.74,238.32 L301.00,240.98" stroke="#000000" stroke-width="1.15" fill="none" stroke-linejoin="round"/></g>
<g clip-path="url(#cb)"><path d="M301.00,231.39 L301.26,230.61 L301.52,226.37 L301.77,224.87 L302.03,222.60 L302.29,220.36 L302.55,220.90 L302.80,213.44 L303.06,213.58 L303.32,207.52 L303.58,209.85 L303.84,211.80 L304.09,208.03 L304.35,206.27 L304.61,207.54 L304.87,204.00 L305.12,201.13 L305.38,197.76 L305.64,194.99 L305.90,194.13 L306.16,195.26 L306.41,193.89 L306.67,190.98 L306.93,190.18 L307.19,189.43 L307.44,184.98 L307.70,182.68 L307.96,180.99 L308.22,179.02 L308.47,178.99 L308.73,178.37 L308.99,176.69 L309.25,175.53 L309.51,176.40 L309.76,174.91 L310.02,176.30 L310.28,171.73 L310.54,171.89 L310.79,172.43 L311.05,170.57 L311.31,167.45 L311.57,168.39 L311.83,168.38 L312.08,167.12 L312.34,166.80 L312.60,164.44 L312.86,164.81 L313.11,164.33 L313.37,164.90 L313.63,160.51 L313.89,160.84 L314.15,160.73 L314.40,160.74 L314.66,157.87 L314.92,159.18 L315.18,157.26 L315.43,155.57 L315.69,153.71 L315.95,155.53 L316.21,154.27 L316.47,152.84 L316.72,152.78 L316.98,152.95 L317.24,151.03 L317.50,155.42 L317.75,154.23 L318.01,151.00 L318.27,151.46 L318.53,153.69 L318.79,147.94 L319.04,148.96 L319.30,149.44 L319.56,147.38 L319.82,148.92 L320.07,147.56 L320.33,145.16 L320.59,145.57 L320.85,145.44 L321.11,143.64 L321.36,147.35 L321.62,145.35 L321.88,144.05 L322.14,145.72 L322.39,144.23 L322.65,146.54 L322.91,144.67 L323.17,143.93 L323.42,143.64 L323.68,143.40 L323.94,142.88 L324.20,142.66 L324.46,144.16 L324.71,141.66 L324.97,142.39 L325.23,141.49 L325.49,141.57 L325.74,142.26 L326.00,142.30 L326.26,139.29 L326.52,139.92 L326.78,141.13 L327.03,139.65 L327.29,139.81 L327.55,136.15 L327.81,138.15 L328.06,139.87 L328.32,136.76 L328.58,137.83 L328.84,140.17 L329.10,138.52 L329.35,139.68 L329.61,137.83 L329.87,136.82 L330.13,135.07 L330.38,137.36 L330.64,137.83 L330.90,138.12 L331.16,137.46 L331.42,137.05 L331.67,136.58 L331.93,134.76 L332.19,135.98 L332.45,134.31 L332.70,133.43 L332.96,135.36 L333.22,132.55 L333.48,134.18 L333.74,132.55 L333.99,132.98 L334.25,134.22 L334.51,133.72 L334.77,131.08 L335.02,131.29 L335.28,133.37 L335.54,131.35 L335.80,133.10 L336.06,134.58 L336.31,132.90 L336.57,133.21 L336.83,131.89 L337.09,135.03 L337.34,134.09 L337.60,136.76 L337.86,137.22 L338.12,135.98 L338.37,137.16 L338.63,132.91 L338.89,134.07 L339.15,135.30 L339.41,132.68 L339.66,134.03 L339.92,134.19 L340.18,135.91 L340.44,131.44 L340.69,133.01 L340.95,131.99 L341.21,132.32 L341.47,129.81 L341.73,131.39 L341.98,131.37 L342.24,128.89 L342.50,130.18 L342.76,128.09 L343.01,131.41 L343.27,132.53 L343.53,130.31 L343.79,131.67 L344.05,130.71 L344.30,131.41 L344.56,131.38 L344.82,130.66 L345.08,132.48 L345.33,128.90 L345.59,128.19 L345.85,128.44 L346.11,129.27 L346.37,127.82 L346.62,128.39 L346.88,128.13 L347.14,130.48 L347.40,127.21 L347.65,126.67 L347.91,126.11 L348.17,128.10 L348.43,127.51 L348.69,127.57 L348.94,125.90 L349.20,125.80 L349.46,126.80 L349.72,127.26 L349.97,127.23 L350.23,126.72 L350.49,124.84 L350.75,126.36 L351.01,127.39 L351.26,126.30 L351.52,129.11 L351.78,128.50 L352.04,128.34 L352.29,127.35 L352.55,128.62 L352.81,128.42 L353.07,129.46 L353.32,130.03 L353.58,128.39 L353.84,129.43 L354.10,128.44 L354.36,128.61 L354.61,130.16 L354.87,127.64 L355.13,126.58 L355.39,126.74 L355.64,126.74 L355.90,128.21 L356.16,126.93 L356.42,127.67 L356.68,128.68 L356.93,129.26 L357.19,128.02 L357.45,128.58 L357.71,126.52 L357.96,128.94 L358.22,132.13 L358.48,128.39 L358.74,129.64 L359.00,130.09 L359.25,128.66 L359.51,128.24 L359.77,127.08 L360.03,127.36 L360.28,126.00 L360.54,127.87 L360.80,128.29 L361.06,127.74 L361.32,127.75 L361.57,125.28 L361.83,127.98 L362.09,128.89 L362.35,127.33 L362.60,128.28 L362.86,126.63 L363.12,126.47 L363.38,128.19 L363.64,124.37 L363.89,120.12 L364.15,123.80 L364.41,121.85 L364.67,122.71 L364.92,124.66 L365.18,124.58 L365.44,122.63 L365.70,121.62 L365.95,122.13 L366.21,124.59 L366.47,121.63 L366.73,121.15 L366.99,120.70 L367.24,117.76 L367.50,120.38 L367.76,117.84 L368.02,118.18 L368.27,121.18 L368.53,121.07 L368.79,121.92 L369.05,123.06 L369.31,122.36 L369.56,123.35 L369.82,121.14 L370.08,118.99 L370.34,121.25 L370.59,120.81 L370.85,121.04 L371.11,119.91 L371.37,121.19 L371.63,120.81 L371.88,118.91 L372.14,119.30 L372.40,120.45 L372.66,118.47 L372.91,118.20 L373.17,120.31 L373.43,120.05 L373.69,123.55 L373.95,123.61 L374.20,122.27 L374.46,121.74 L374.72,122.72 L374.98,121.74 L375.23,119.93 L375.49,120.71 L375.75,119.94 L376.01,119.96 L376.27,118.63 L376.52,117.54 L376.78,119.22 L377.04,118.68 L377.30,118.11 L377.55,115.52 L377.81,118.43 L378.07,118.73 L378.33,117.54 L378.59,115.11 L378.84,117.83 L379.10,115.17 L379.36,114.76 L379.62,117.44 L379.87,116.41 L380.13,116.03 L380.39,112.51 L380.65,116.46 L380.90,115.71 L381.16,117.79 L381.42,116.80 L381.68,118.52 L381.94,117.75 L382.19,118.14 L382.45,117.47 L382.71,121.35 L382.97,118.28 L383.22,120.32 L383.48,120.31 L383.74,123.66 L384.00,119.41 L384.26,121.38 L384.51,120.89 L384.77,121.19 L385.03,121.94 L385.29,120.66 L385.54,121.16 L385.80,121.13 L386.06,121.58 L386.32,121.42 L386.58,118.50 L386.83,119.65 L387.09,119.70 L387.35,119.29 L387.61,122.19 L387.86,121.96 L388.12,122.52 L388.38,121.34 L388.64,118.19 L388.90,121.60 L389.15,119.06 L389.41,119.87 L389.67,119.04 L389.93,119.78 L390.18,120.50 L390.44,119.14 L390.70,119.07 L390.96,118.32 L391.22,117.69 L391.47,121.02 L391.73,119.50 L391.99,116.37 L392.25,118.66 L392.50,117.89 L392.76,114.55 L393.02,115.62 L393.28,118.79 L393.54,118.16 L393.79,119.91 L394.05,119.58 L394.31,119.01 L394.57,117.40 L394.82,116.31 L395.08,120.23 L395.34,119.32 L395.60,118.61 L395.85,116.15 L396.11,116.20 L396.37,114.51 L396.63,118.42 L396.89,115.73 L397.14,117.97 L397.40,117.79 L397.66,118.99 L397.92,117.74 L398.17,117.72 L398.43,122.59 L398.69,120.70 L398.95,118.49 L399.21,121.33 L399.46,122.14 L399.72,121.35 L399.98,120.03 L400.24,120.38 L400.49,119.95 L400.75,123.27 L401.01,121.57 L401.27,121.30 L401.53,122.03 L401.78,123.36 L402.04,121.75 L402.30,124.88 L402.56,123.72 L402.81,120.50 L403.07,123.65 L403.33,126.78 L403.59,127.00 L403.85,125.35 L404.10,123.27 L404.36,124.22 L404.62,125.95 L404.88,124.25 L405.13,126.89 L405.39,123.21 L405.65,124.55 L405.91,122.94 L406.17,122.10 L406.42,121.22 L406.68,118.58 L406.94,122.41 L407.20,122.54 L407.45,121.28 L407.71,120.60 L407.97,122.59 L408.23,122.04 L408.48,122.92 L408.74,122.46 L409.00,121.47 L409.26,122.76 L409.52,120.49 L409.77,122.87 L410.03,119.85 L410.29,122.35 L410.55,120.99 L410.80,122.89 L411.06,119.17 L411.32,119.33 L411.58,121.10 L411.84,120.78 L412.09,121.48 L412.35,120.10 L412.61,119.94 L412.87,120.51 L413.12,119.31 L413.38,121.22 L413.64,120.40 L413.90,117.79 L414.16,117.54 L414.41,116.25 L414.67,116.19 L414.93,120.37 L415.19,120.87 L415.44,119.43 L415.70,119.05 L415.96,119.94 L416.22,117.49 L416.48,119.59 L416.73,118.50 L416.99,122.99 L417.25,121.26 L417.51,122.23 L417.76,121.13 L418.02,122.46 L418.28,122.18 L418.54,121.99 L418.80,120.14 L419.05,119.55 L419.31,121.30 L419.57,122.58 L419.83,122.86 L420.08,124.64 L420.34,124.22 L420.60,118.89 L420.86,119.97 L421.12,117.53 L421.37,119.70 L421.63,120.80 L421.89,120.40 L422.15,119.41 L422.40,119.11 L422.66,121.13 L422.92,123.28 L423.18,121.19 L423.43,122.29 L423.69,124.04 L423.95,121.20 L424.21,121.45 L424.47,119.31 L424.72,120.49 L424.98,120.92 L425.24,121.57 L425.50,120.81 L425.75,119.42 L426.01,117.97 L426.27,116.01 L426.53,116.68 L426.79,118.90 L427.04,115.24 L427.30,114.04 L427.56,117.21 L427.82,115.08 L428.07,116.30 L428.33,115.07 L428.59,117.75 L428.85,118.25 L429.11,116.49 L429.36,117.73 L429.62,116.39 L429.88,116.66 L430.14,118.02 L430.39,117.57 L430.65,114.72 L430.91,112.49 L431.17,114.14 L431.43,114.67 L431.68,113.20 L431.94,113.46 L432.20,113.73 L432.46,113.93 L432.71,113.22 L432.97,113.21 L433.23,113.69 L433.49,109.98 L433.75,113.99 L434.00,113.30 L434.26,111.46 L434.52,113.70 L434.78,113.63 L435.03,113.56 L435.29,112.85 L435.55,111.60 L435.81,109.08 L436.07,110.78 L436.32,110.93 L436.58,113.14 L436.84,116.29 L437.10,111.37 L437.35,112.10 L437.61,114.52 L437.87,115.51 L438.13,115.41 L438.38,112.74 L438.64,114.14 L438.90,114.97 L439.16,112.77 L439.42,115.01 L439.67,115.38 L439.93,116.04 L440.19,116.61 L440.45,115.33 L440.70,114.58 L440.96,115.27 L441.22,116.03 L441.48,115.37 L441.74,115.76 L441.99,115.05 L442.25,113.67 L442.51,114.73 L442.77,116.48 L443.02,114.46 L443.28,116.63 L443.54,115.52 L443.80,117.74 L444.06,116.25 L444.31,119.69 L444.57,115.50 L444.83,117.74 L445.09,118.73 L445.34,115.93 L445.60,118.45 L445.86,118.17 L446.12,118.33 L446.38,115.45 L446.63,118.88 L446.89,120.60 L447.15,120.13 L447.41,119.29 L447.66,119.52 L447.92,119.97 L448.18,120.94 L448.44,119.15 L448.70,118.04 L448.95,117.88 L449.21,121.90 L449.47,123.69 L449.73,121.32 L449.98,121.37 L450.24,122.72 L450.50,120.26 L450.76,120.64 L451.02,120.41 L451.27,120.92 L451.53,122.05 L451.79,120.42 L452.05,121.86 L452.30,117.60 L452.56,119.60 L452.82,120.24 L453.08,122.53 L453.33,122.09 L453.59,120.71 L453.85,121.71 L454.11,120.94 L454.37,119.69 L454.62,119.75 L454.88,121.34 L455.14,121.93 L455.40,125.91 L455.65,122.20 L455.91,120.97 L456.17,121.61 L456.43,120.75 L456.69,119.18 L456.94,122.02 L457.20,121.71 L457.46,121.84 L457.72,120.08 L457.97,118.31 L458.23,122.52 L458.49,124.22 L458.75,123.76 L459.01,120.51 L459.26,123.84 L459.52,125.40 L459.78,124.89 L460.04,124.38 L460.29,126.52 L460.55,125.24 L460.81,124.40 L461.07,126.49 L461.33,124.83 L461.58,123.71 L461.84,123.10 L462.10,121.33 L462.36,123.51 L462.61,127.16 L462.87,125.36 L463.13,126.03 L463.39,128.50 L463.65,128.07 L463.90,126.55 L464.16,124.94 L464.42,124.55 L464.68,123.67 L464.93,124.45 L465.19,126.34 L465.45,124.71 L465.71,124.70 L465.96,125.36 L466.22,127.40 L466.48,128.04 L466.74,128.90 L467.00,126.05 L467.25,126.69 L467.51,124.58 L467.77,127.76 L468.03,126.82 L468.28,125.52 L468.54,123.39 L468.80,126.37 L469.06,125.61 L469.32,125.11 L469.57,124.65 L469.83,125.19 L470.09,124.40 L470.35,123.05 L470.60,121.82 L470.86,123.90 L471.12,123.55 L471.38,122.48 L471.64,123.74 L471.89,124.31 L472.15,124.61 L472.41,124.80 L472.67,125.49 L472.92,123.72 L473.18,123.69 L473.44,122.84 L473.70,123.15 L473.96,121.34 L474.21,121.33 L474.47,122.11 L474.73,121.27 L474.99,120.59 L475.24,120.84 L475.50,122.54 L475.76,120.02 L476.02,121.48 L476.28,121.03 L476.53,121.66 L476.79,118.97 L477.05,118.04 L477.31,116.58 L477.56,119.14 L477.82,116.46 L478.08,118.50 L478.34,119.82 L478.60,116.90 L478.85,116.95 L479.11,116.63 L479.37,118.58 L479.63,120.88 L479.88,120.44 L480.14,120.22 L480.40,121.74 L480.66,123.20 L480.91,120.35 L481.17,119.46 L481.43,120.10 L481.69,119.32 L481.95,118.76 L482.20,119.99 L482.46,118.85 L482.72,117.83 L482.98,119.80 L483.23,118.87 L483.49,119.32 L483.75,117.41 L484.01,120.47 L484.27,121.37 L484.52,122.18 L484.78,122.17 L485.04,122.59 L485.30,120.23 L485.55,121.50 L485.81,120.84 L486.07,118.71 L486.33,118.67 L486.59,122.14 L486.84,120.27 L487.10,119.45 L487.36,122.82 L487.62,122.82 L487.87,120.98 L488.13,121.04 L488.39,121.06 L488.65,120.28 L488.91,121.89 L489.16,120.36 L489.42,121.04 L489.68,123.25 L489.94,121.26 L490.19,119.85 L490.45,123.83 L490.71,120.56 L490.97,121.68 L491.23,120.71 L491.48,119.51 L491.74,120.88 L492.00,123.91 L492.26,122.21 L492.51,124.08 L492.77,121.98 L493.03,122.73 L493.29,123.23 L493.55,119.96 L493.80,123.49 L494.06,122.82 L494.32,123.42 L494.58,122.34 L494.83,125.03 L495.09,125.82 L495.35,125.43 L495.61,122.14 L495.86,121.85 L496.12,122.65 L496.38,123.99 L496.64,122.55 L496.90,123.79 L497.15,122.09 L497.41,124.45 L497.67,120.45 L497.93,122.68 L498.18,123.97 L498.44,122.67 L498.70,122.37 L498.96,120.90 L499.22,121.44 L499.47,121.77 L499.73,122.54 L499.99,121.21 L500.25,124.11 L500.50,122.12 L500.76,121.11 L501.02,122.44 L501.28,122.93 L501.54,123.52 L501.79,120.87 L502.05,122.28 L502.31,121.55 L502.57,123.89 L502.82,122.44 L503.08,120.65 L503.34,124.69 L503.60,125.13 L503.86,124.69 L504.11,121.03 L504.37,122.11 L504.63,121.46 L504.89,122.35 L505.14,123.71 L505.40,119.71 L505.66,120.38 L505.92,121.62 L506.18,121.60 L506.43,123.96 L506.69,121.24 L506.95,119.88 L507.21,121.44 L507.46,118.60 L507.72,118.39 L507.98,117.94 L508.24,120.84 L508.49,122.08 L508.75,124.76 L509.01,123.29 L509.27,119.47 L509.53,120.80 L509.78,120.52 L510.04,122.69 L510.30,123.47 L510.56,125.55 L510.81,125.49 L511.07,124.97 L511.33,122.10 L511.59,122.91 L511.85,120.41 L512.10,121.14 L512.36,118.91 L512.62,120.05 L512.88,119.96 L513.13,120.41 L513.39,122.11 L513.65,120.17 L513.91,120.58 L514.17,120.67 L514.42,123.25 L514.68,120.67 L514.94,122.64 L515.20,125.54 L515.45,120.26 L515.71,119.26 L515.97,118.19 L516.23,122.89 L516.49,121.40 L516.74,121.50 L517.00,119.94 L517.26,120.28 L517.52,119.55 L517.77,121.12 L518.03,118.28 L518.29,115.66 L518.55,121.87 L518.81,120.96 L519.06,120.69 L519.32,122.07 L519.58,123.42 L519.84,124.36 L520.09,121.70 L520.35,120.71 L520.61,121.62 L520.87,119.66 L521.13,119.38 L521.38,119.08 L521.64,122.06 L521.90,122.02 L522.16,121.44 L522.41,118.94 L522.67,118.81 L522.93,120.43 L523.19,121.36 L523.44,119.33 L523.70,120.81 L523.96,121.20 L524.22,121.24 L524.48,122.28 L524.73,119.83 L524.99,118.01 L525.25,118.32 L525.51,117.96 L525.76,117.43 L526.02,118.96 L526.28,117.31 L526.54,118.62 L526.80,116.80 L527.05,116.76 L527.31,116.87 L527.57,120.85 L527.83,121.86 L528.08,119.24 L528.34,120.44 L528.60,120.44 L528.86,118.92 L529.12,119.67 L529.37,118.13 L529.63,121.24 L529.89,121.48 L530.15,117.78 L530.40,119.23 L530.66,122.43 L530.92,120.27 L531.18,123.06 L531.44,122.27 L531.69,122.08 L531.95,121.14 L532.21,120.43 L532.47,118.68 L532.72,117.33 L532.98,116.02 L533.24,118.70 L533.50,119.98 L533.76,119.41 L534.01,120.80 L534.27,120.72 L534.53,119.06 L534.79,119.66 L535.04,119.66 L535.30,119.72 L535.56,119.85 L535.82,119.39 L536.08,119.96 L536.33,119.64 L536.59,120.41 L536.85,122.75 L537.11,122.86 L537.36,124.17 L537.62,124.48 L537.88,122.60 L538.14,124.54 L538.39,123.56 L538.65,123.33 L538.91,122.19 L539.17,122.42 L539.43,124.61 L539.68,123.28 L539.94,123.39 L540.20,122.79 L540.46,124.05 L540.71,125.90 L540.97,126.40 L541.23,119.48 L541.49,124.10 L541.75,124.68 L542.00,122.34 L542.26,122.57 L542.52,123.45 L542.78,120.31 L543.03,122.61 L543.29,124.75 L543.55,123.93 L543.81,124.61 L544.07,124.59 L544.32,121.99 L544.58,123.93 L544.84,124.43 L545.10,126.95 L545.35,126.99 L545.61,124.19 L545.87,127.63 L546.13,127.63 L546.39,127.43 L546.64,126.22 L546.90,124.57 L547.16,123.78 L547.42,122.31 L547.67,121.73 L547.93,126.92 L548.19,129.14 L548.45,126.62 L548.71,123.70 L548.96,126.19 L549.22,125.89 L549.48,126.10 L549.74,127.34 L549.99,125.37 L550.25,124.15 L550.51,124.03 L550.77,125.35 L551.03,123.03 L551.28,124.51 L551.54,123.03 L551.80,123.78 L552.06,124.71 L552.31,125.80 L552.57,126.67 L552.83,127.13 L553.09,125.08 L553.34,122.12 L553.60,121.77 L553.86,119.63 L554.12,122.67 L554.38,122.63 L554.63,123.23 L554.89,123.60 L555.15,123.84 L555.41,122.14 L555.66,120.71 L555.92,119.93 L556.18,122.70 L556.44,124.79 L556.70,122.48 L556.95,122.34 L557.21,123.32 L557.47,125.22 L557.73,125.06 L557.98,123.64 L558.24,124.36 L558.50,121.59" stroke="#22dde8" stroke-width="1.0" fill="none" stroke-linejoin="round"/>
<path d="M301.00,233.42 L301.26,232.20 L301.52,227.91 L301.77,229.45 L302.03,226.07 L302.29,224.75 L302.55,220.82 L302.80,219.52 L303.06,218.20 L303.32,217.01 L303.58,212.29 L303.84,210.63 L304.09,211.19 L304.35,208.47 L304.61,206.53 L304.87,206.10 L305.12,203.77 L305.38,200.66 L305.64,201.74 L305.90,199.78 L306.16,196.65 L306.41,191.76 L306.67,191.42 L306.93,190.01 L307.19,192.41 L307.44,192.54 L307.70,189.13 L307.96,191.81 L308.22,192.22 L308.47,189.13 L308.73,188.32 L308.99,188.27 L309.25,184.80 L309.51,183.35 L309.76,182.14 L310.02,183.54 L310.28,182.51 L310.54,182.47 L310.79,184.69 L311.05,180.90 L311.31,181.46 L311.57,181.30 L311.83,180.65 L312.08,179.08 L312.34,178.59 L312.60,178.51 L312.86,176.18 L313.11,175.00 L313.37,176.64 L313.63,177.91 L313.89,178.15 L314.15,174.62 L314.40,173.51 L314.66,172.14 L314.92,170.38 L315.18,173.40 L315.43,175.04 L315.69,174.83 L315.95,173.17 L316.21,171.74 L316.47,172.84 L316.72,168.38 L316.98,167.26 L317.24,170.96 L317.50,170.63 L317.75,167.97 L318.01,166.95 L318.27,165.97 L318.53,164.45 L318.79,162.15 L319.04,162.23 L319.30,163.20 L319.56,162.33 L319.82,161.57 L320.07,163.97 L320.33,164.03 L320.59,161.03 L320.85,162.22 L321.11,159.85 L321.36,162.68 L321.62,162.33 L321.88,160.45 L322.14,161.57 L322.39,164.86 L322.65,160.99 L322.91,160.38 L323.17,162.53 L323.42,163.09 L323.68,163.17 L323.94,160.89 L324.20,160.40 L324.46,159.99 L324.71,161.70 L324.97,160.91 L325.23,158.38 L325.49,162.88 L325.74,161.07 L326.00,157.37 L326.26,158.78 L326.52,157.54 L326.78,156.84 L327.03,157.10 L327.29,157.80 L327.55,158.10 L327.81,156.34 L328.06,156.40 L328.32,156.03 L328.58,159.32 L328.84,157.02 L329.10,158.40 L329.35,158.47 L329.61,158.45 L329.87,157.39 L330.13,155.64 L330.38,156.41 L330.64,153.33 L330.90,155.91 L331.16,157.98 L331.42,155.80 L331.67,158.40 L331.93,154.55 L332.19,153.59 L332.45,152.66 L332.70,156.77 L332.96,154.04 L333.22,155.09 L333.48,153.05 L333.74,153.75 L333.99,155.84 L334.25,153.66 L334.51,148.80 L334.77,152.36 L335.02,154.33 L335.28,154.49 L335.54,155.46 L335.80,152.81 L336.06,150.91 L336.31,152.37 L336.57,150.31 L336.83,152.57 L337.09,151.81 L337.34,151.81 L337.60,151.05 L337.86,150.02 L338.12,152.87 L338.37,151.26 L338.63,150.81 L338.89,148.87 L339.15,149.94 L339.41,149.90 L339.66,148.26 L339.92,146.56 L340.18,147.27 L340.44,147.79 L340.69,145.00 L340.95,143.08 L341.21,144.33 L341.47,144.76 L341.73,145.58 L341.98,144.15 L342.24,144.15 L342.50,145.16 L342.76,142.12 L343.01,143.53 L343.27,143.02 L343.53,145.20 L343.79,144.76 L344.05,141.31 L344.30,140.74 L344.56,138.86 L344.82,139.72 L345.08,140.25 L345.33,141.65 L345.59,140.13 L345.85,142.67 L346.11,141.75 L346.37,142.00 L346.62,143.35 L346.88,142.36 L347.14,142.87 L347.40,142.11 L347.65,142.59 L347.91,142.02 L348.17,141.15 L348.43,137.83 L348.69,142.16 L348.94,141.67 L349.20,142.11 L349.46,141.70 L349.72,142.68 L349.97,147.29 L350.23,143.98 L350.49,141.77 L350.75,142.82 L351.01,140.61 L351.26,141.14 L351.52,142.15 L351.78,142.27 L352.04,142.78 L352.29,143.72 L352.55,140.88 L352.81,142.10 L353.07,145.68 L353.32,146.73 L353.58,145.20 L353.84,140.61 L354.10,143.79 L354.36,145.15 L354.61,145.25 L354.87,146.32 L355.13,144.63 L355.39,146.63 L355.64,144.90 L355.90,145.92 L356.16,144.31 L356.42,145.19 L356.68,145.66 L356.93,145.50 L357.19,145.01 L357.45,146.47 L357.71,148.43 L357.96,147.84 L358.22,146.51 L358.48,148.55 L358.74,146.60 L359.00,148.23 L359.25,147.54 L359.51,147.93 L359.77,150.31 L360.03,148.49 L360.28,148.29 L360.54,148.80 L360.80,152.34 L361.06,149.80 L361.32,149.32 L361.57,147.80 L361.83,148.87 L362.09,148.64 L362.35,146.65 L362.60,148.80 L362.86,149.38 L363.12,150.34 L363.38,150.65 L363.64,152.71 L363.89,149.75 L364.15,150.43 L364.41,149.19 L364.67,150.86 L364.92,150.33 L365.18,151.26 L365.44,149.85 L365.70,151.07 L365.95,151.21 L366.21,149.91 L366.47,148.65 L366.73,149.19 L366.99,150.83 L367.24,148.59 L367.50,147.45 L367.76,148.55 L368.02,145.96 L368.27,148.23 L368.53,145.34 L368.79,147.13 L369.05,147.65 L369.31,147.59 L369.56,149.00 L369.82,148.04 L370.08,149.36 L370.34,149.11 L370.59,146.27 L370.85,147.03 L371.11,148.62 L371.37,147.80 L371.63,148.74 L371.88,147.43 L372.14,146.07 L372.40,147.75 L372.66,148.71 L372.91,150.03 L373.17,146.12 L373.43,146.10 L373.69,149.46 L373.95,146.92 L374.20,149.12 L374.46,148.51 L374.72,148.92 L374.98,148.48 L375.23,147.59 L375.49,147.17 L375.75,148.87 L376.01,148.66 L376.27,149.94 L376.52,147.88 L376.78,148.23 L377.04,148.54 L377.30,149.40 L377.55,151.14 L377.81,149.76 L378.07,148.20 L378.33,148.09 L378.59,145.64 L378.84,146.70 L379.10,147.38 L379.36,145.34 L379.62,149.06 L379.87,149.25 L380.13,148.49 L380.39,146.83 L380.65,146.84 L380.90,146.96 L381.16,148.61 L381.42,148.67 L381.68,146.85 L381.94,147.20 L382.19,146.98 L382.45,147.38 L382.71,146.82 L382.97,143.63 L383.22,145.53 L383.48,146.09 L383.74,147.69 L384.00,150.99 L384.26,150.26 L384.51,150.78 L384.77,151.38 L385.03,148.59 L385.29,149.21 L385.54,151.17 L385.80,148.77 L386.06,145.94 L386.32,146.69 L386.58,148.42 L386.83,147.95 L387.09,149.41 L387.35,145.77 L387.61,145.82 L387.86,146.60 L388.12,147.92 L388.38,145.68 L388.64,144.25 L388.90,144.97 L389.15,146.29 L389.41,146.98 L389.67,147.73 L389.93,147.72 L390.18,147.46 L390.44,146.70 L390.70,148.83 L390.96,146.81 L391.22,146.45 L391.47,146.00 L391.73,145.85 L391.99,148.42 L392.25,146.53 L392.50,148.96 L392.76,149.32 L393.02,146.82 L393.28,149.18 L393.54,148.98 L393.79,147.05 L394.05,150.26 L394.31,147.80 L394.57,148.96 L394.82,147.96 L395.08,147.92 L395.34,148.46 L395.60,146.55 L395.85,146.26 L396.11,149.38 L396.37,145.39 L396.63,151.44 L396.89,150.69 L397.14,152.97 L397.40,151.82 L397.66,146.42 L397.92,147.34 L398.17,150.88 L398.43,150.01 L398.69,149.82 L398.95,150.50 L399.21,151.72 L399.46,150.25 L399.72,152.40 L399.98,150.30 L400.24,151.30 L400.49,153.02 L400.75,152.45 L401.01,151.71 L401.27,155.22 L401.53,151.95 L401.78,154.13 L402.04,154.85 L402.30,154.28 L402.56,154.04 L402.81,152.24 L403.07,152.02 L403.33,153.73 L403.59,154.00 L403.85,153.82 L404.10,151.00 L404.36,152.08 L404.62,154.74 L404.88,155.49 L405.13,153.25 L405.39,152.81 L405.65,150.90 L405.91,152.59 L406.17,156.40 L406.42,153.90 L406.68,154.62 L406.94,153.06 L407.20,153.58 L407.45,150.96 L407.71,152.70 L407.97,151.13 L408.23,153.86 L408.48,151.90 L408.74,152.07 L409.00,152.20 L409.26,149.51 L409.52,150.38 L409.77,148.48 L410.03,150.26 L410.29,153.01 L410.55,153.59 L410.80,152.60 L411.06,151.29 L411.32,152.40 L411.58,152.36 L411.84,151.11 L412.09,152.09 L412.35,152.16 L412.61,151.78 L412.87,148.63 L413.12,151.68 L413.38,149.33 L413.64,150.07 L413.90,148.84 L414.16,147.71 L414.41,148.88 L414.67,146.47 L414.93,147.61 L415.19,146.79 L415.44,145.56 L415.70,143.18 L415.96,145.41 L416.22,143.90 L416.48,146.77 L416.73,145.63 L416.99,144.93 L417.25,144.79 L417.51,145.13 L417.76,144.09 L418.02,140.95 L418.28,143.26 L418.54,143.14 L418.80,143.51 L419.05,145.62 L419.31,142.63 L419.57,143.27 L419.83,139.69 L420.08,137.73 L420.34,143.19 L420.60,145.00 L420.86,144.58 L421.12,142.91 L421.37,143.84 L421.63,144.84 L421.89,145.66 L422.15,145.45 L422.40,143.33 L422.66,144.08 L422.92,143.60 L423.18,142.79 L423.43,145.99 L423.69,145.03 L423.95,144.46 L424.21,144.22 L424.47,147.18 L424.72,147.65 L424.98,147.85 L425.24,148.89 L425.50,146.30 L425.75,145.99 L426.01,148.07 L426.27,145.74 L426.53,147.12 L426.79,144.74 L427.04,148.91 L427.30,148.37 L427.56,146.03 L427.82,150.25 L428.07,149.16 L428.33,151.09 L428.59,150.55 L428.85,150.82 L429.11,149.46 L429.36,150.78 L429.62,149.16 L429.88,149.22 L430.14,149.13 L430.39,148.81 L430.65,148.38 L430.91,148.60 L431.17,148.72 L431.43,146.37 L431.68,145.63 L431.94,143.88 L432.20,143.32 L432.46,145.59 L432.71,143.91 L432.97,143.95 L433.23,143.36 L433.49,144.78 L433.75,144.56 L434.00,145.99 L434.26,145.69 L434.52,144.84 L434.78,146.61 L435.03,145.10 L435.29,143.81 L435.55,144.31 L435.81,143.02 L436.07,142.15 L436.32,144.38 L436.58,144.39 L436.84,145.55 L437.10,146.71 L437.35,145.53 L437.61,146.20 L437.87,143.94 L438.13,146.28 L438.38,146.24 L438.64,147.90 L438.90,146.84 L439.16,143.99 L439.42,145.72 L439.67,143.80 L439.93,144.54 L440.19,141.74 L440.45,144.22 L440.70,143.22 L440.96,143.85 L441.22,143.31 L441.48,141.21 L441.74,142.15 L441.99,143.19 L442.25,143.74 L442.51,141.36 L442.77,140.67 L443.02,140.75 L443.28,139.26 L443.54,143.91 L443.80,146.53 L444.06,142.71 L444.31,141.65 L444.57,141.88 L444.83,147.10 L445.09,146.69 L445.34,147.20 L445.60,145.87 L445.86,146.37 L446.12,143.97 L446.38,145.82 L446.63,145.31 L446.89,142.43 L447.15,140.49 L447.41,145.50 L447.66,144.64 L447.92,144.84 L448.18,146.01 L448.44,149.84 L448.70,147.07 L448.95,145.60 L449.21,145.30 L449.47,143.83 L449.73,142.44 L449.98,146.21 L450.24,145.09 L450.50,144.43 L450.76,145.80 L451.02,145.24 L451.27,147.50 L451.53,145.93 L451.79,147.37 L452.05,147.14 L452.30,148.03 L452.56,148.15 L452.82,147.36 L453.08,147.93 L453.33,146.91 L453.59,144.36 L453.85,149.83 L454.11,149.23 L454.37,147.95 L454.62,147.28 L454.88,147.22 L455.14,148.61 L455.40,147.81 L455.65,148.08 L455.91,145.24 L456.17,147.85 L456.43,146.82 L456.69,149.10 L456.94,149.06 L457.20,147.20 L457.46,148.79 L457.72,148.34 L457.97,147.72 L458.23,144.78 L458.49,144.01 L458.75,146.94 L459.01,144.15 L459.26,141.88 L459.52,142.46 L459.78,142.88 L460.04,144.87 L460.29,144.94 L460.55,144.11 L460.81,144.99 L461.07,144.20 L461.33,142.77 L461.58,142.32 L461.84,141.40 L462.10,141.63 L462.36,141.01 L462.61,140.03 L462.87,140.54 L463.13,141.00 L463.39,141.64 L463.65,143.17 L463.90,139.50 L464.16,142.19 L464.42,143.38 L464.68,142.23 L464.93,140.86 L465.19,141.13 L465.45,138.94 L465.71,140.22 L465.96,140.09 L466.22,141.79 L466.48,145.05 L466.74,144.92 L467.00,144.25 L467.25,143.95 L467.51,143.25 L467.77,144.75 L468.03,143.94 L468.28,141.68 L468.54,144.84 L468.80,145.86 L469.06,145.90 L469.32,143.44 L469.57,143.17 L469.83,142.97 L470.09,145.47 L470.35,144.13 L470.60,145.59 L470.86,144.03 L471.12,143.70 L471.38,141.77 L471.64,147.05 L471.89,147.43 L472.15,147.88 L472.41,149.06 L472.67,148.66 L472.92,148.57 L473.18,147.86 L473.44,145.96 L473.70,142.71 L473.96,143.87 L474.21,143.44 L474.47,144.36 L474.73,146.38 L474.99,145.92 L475.24,146.33 L475.50,147.75 L475.76,145.95 L476.02,146.22 L476.28,145.46 L476.53,145.21 L476.79,148.43 L477.05,148.01 L477.31,144.64 L477.56,146.57 L477.82,146.08 L478.08,146.02 L478.34,148.14 L478.60,147.77 L478.85,145.90 L479.11,146.70 L479.37,149.23 L479.63,148.10 L479.88,144.46 L480.14,146.77 L480.40,146.32 L480.66,146.67 L480.91,142.78 L481.17,145.52 L481.43,146.11 L481.69,143.88 L481.95,146.01 L482.20,145.25 L482.46,145.30 L482.72,144.57 L482.98,143.54 L483.23,142.43 L483.49,141.14 L483.75,143.12 L484.01,146.02 L484.27,144.33 L484.52,142.59 L484.78,143.16 L485.04,142.46 L485.30,143.14 L485.55,142.95 L485.81,142.83 L486.07,143.74 L486.33,145.24 L486.59,146.06 L486.84,144.10 L487.10,145.96 L487.36,143.47 L487.62,142.46 L487.87,143.91 L488.13,143.40 L488.39,142.56 L488.65,143.63 L488.91,142.99 L489.16,143.14 L489.42,144.30 L489.68,145.47 L489.94,145.96 L490.19,146.03 L490.45,147.38 L490.71,146.41 L490.97,144.70 L491.23,144.88 L491.48,145.21 L491.74,146.52 L492.00,148.30 L492.26,147.16 L492.51,148.37 L492.77,146.82 L493.03,146.36 L493.29,147.78 L493.55,146.71 L493.80,147.35 L494.06,147.23 L494.32,146.68 L494.58,147.92 L494.83,148.10 L495.09,148.87 L495.35,146.56 L495.61,146.27 L495.86,147.15 L496.12,148.20 L496.38,149.40 L496.64,148.89 L496.90,148.81 L497.15,150.31 L497.41,151.08 L497.67,153.73 L497.93,147.99 L498.18,149.46 L498.44,148.95 L498.70,147.38 L498.96,147.64 L499.22,145.66 L499.47,143.90 L499.73,145.31 L499.99,146.79 L500.25,148.02 L500.50,147.36 L500.76,145.91 L501.02,144.43 L501.28,144.64 L501.54,145.30 L501.79,146.32 L502.05,143.01 L502.31,143.82 L502.57,140.36 L502.82,141.93 L503.08,141.65 L503.34,139.61 L503.60,143.97 L503.86,145.36 L504.11,144.58 L504.37,144.78 L504.63,142.99 L504.89,144.46 L505.14,142.97 L505.40,145.62 L505.66,144.21 L505.92,140.96 L506.18,142.70 L506.43,145.84 L506.69,143.23 L506.95,145.35 L507.21,142.70 L507.46,142.70 L507.72,137.64 L507.98,141.13 L508.24,141.82 L508.49,142.73 L508.75,140.95 L509.01,142.36 L509.27,143.06 L509.53,142.75 L509.78,141.83 L510.04,142.53 L510.30,143.10 L510.56,144.16 L510.81,141.85 L511.07,143.49 L511.33,141.66 L511.59,144.92 L511.85,144.38 L512.10,143.13 L512.36,146.22 L512.62,145.79 L512.88,143.16 L513.13,142.44 L513.39,142.41 L513.65,145.67 L513.91,144.99 L514.17,146.21 L514.42,146.51 L514.68,146.63 L514.94,145.83 L515.20,146.52 L515.45,146.08 L515.71,148.58 L515.97,145.07 L516.23,144.18 L516.49,146.97 L516.74,146.96 L517.00,149.25 L517.26,147.75 L517.52,146.15 L517.77,147.34 L518.03,147.32 L518.29,148.77 L518.55,147.67 L518.81,148.73 L519.06,147.99 L519.32,146.77 L519.58,147.73 L519.84,144.88 L520.09,147.26 L520.35,147.15 L520.61,147.23 L520.87,147.43 L521.13,148.98 L521.38,148.11 L521.64,149.56 L521.90,150.38 L522.16,149.25 L522.41,147.95 L522.67,147.54 L522.93,146.39 L523.19,146.31 L523.44,145.10 L523.70,148.61 L523.96,146.60 L524.22,147.72 L524.48,149.21 L524.73,148.65 L524.99,152.16 L525.25,151.55 L525.51,148.12 L525.76,152.28 L526.02,148.71 L526.28,147.80 L526.54,146.94 L526.80,146.79 L527.05,146.42 L527.31,150.18 L527.57,146.54 L527.83,147.85 L528.08,152.36 L528.34,149.68 L528.60,150.82 L528.86,151.49 L529.12,151.82 L529.37,149.80 L529.63,148.95 L529.89,146.56 L530.15,149.93 L530.40,150.88 L530.66,147.21 L530.92,146.09 L531.18,144.90 L531.44,146.58 L531.69,149.12 L531.95,148.07 L532.21,151.91 L532.47,153.10 L532.72,151.44 L532.98,151.18 L533.24,149.19 L533.50,148.95 L533.76,150.55 L534.01,149.79 L534.27,148.45 L534.53,149.65 L534.79,151.03 L535.04,150.41 L535.30,150.36 L535.56,149.45 L535.82,151.90 L536.08,151.13 L536.33,149.73 L536.59,152.26 L536.85,151.71 L537.11,151.63 L537.36,148.95 L537.62,145.40 L537.88,148.72 L538.14,148.29 L538.39,147.39 L538.65,146.16 L538.91,145.16 L539.17,144.33 L539.43,145.22 L539.68,145.30 L539.94,146.87 L540.20,144.75 L540.46,146.17 L540.71,142.61 L540.97,147.11 L541.23,144.54 L541.49,146.14 L541.75,145.87 L542.00,144.59 L542.26,145.20 L542.52,143.90 L542.78,141.40 L543.03,140.79 L543.29,142.65 L543.55,141.52 L543.81,140.51 L544.07,140.00 L544.32,141.14 L544.58,142.32 L544.84,141.63 L545.10,143.14 L545.35,142.22 L545.61,137.99 L545.87,142.92 L546.13,139.57 L546.39,140.22 L546.64,139.85 L546.90,140.00 L547.16,139.63 L547.42,140.03 L547.67,142.51 L547.93,142.17 L548.19,145.40 L548.45,142.65 L548.71,141.65 L548.96,139.52 L549.22,142.18 L549.48,140.32 L549.74,142.22 L549.99,143.74 L550.25,139.28 L550.51,142.89 L550.77,141.91 L551.03,140.67 L551.28,139.84 L551.54,139.71 L551.80,136.94 L552.06,138.39 L552.31,139.85 L552.57,143.02 L552.83,142.21 L553.09,143.88 L553.34,143.87 L553.60,144.19 L553.86,144.73 L554.12,144.24 L554.38,141.32 L554.63,140.79 L554.89,139.10 L555.15,140.62 L555.41,139.42 L555.66,141.18 L555.92,140.94 L556.18,141.08 L556.44,142.60 L556.70,141.06 L556.95,142.57 L557.21,146.13 L557.47,142.64 L557.73,143.13 L557.98,144.28 L558.24,144.34 L558.50,142.03" stroke="#10d010" stroke-width="1.15" fill="none" stroke-linejoin="round"/>
<path d="M301.00,238.89 L301.26,239.72 L301.52,240.05 L301.77,237.67 L302.03,240.53 L302.29,237.62 L302.55,236.40 L302.80,236.23 L303.06,234.32 L303.32,234.90 L303.58,232.38 L303.84,229.45 L304.09,230.38 L304.35,231.11 L304.61,230.97 L304.87,229.59 L305.12,233.12 L305.38,230.03 L305.64,228.68 L305.90,229.52 L306.16,226.77 L306.41,230.49 L306.67,228.63 L306.93,226.95 L307.19,229.27 L307.44,230.66 L307.70,229.28 L307.96,226.76 L308.22,228.18 L308.47,227.07 L308.73,226.97 L308.99,226.78 L309.25,226.39 L309.51,224.56 L309.76,225.61 L310.02,225.68 L310.28,225.87 L310.54,224.50 L310.79,226.56 L311.05,225.63 L311.31,224.48 L311.57,223.60 L311.83,224.75 L312.08,225.44 L312.34,225.72 L312.60,222.93 L312.86,222.77 L313.11,222.52 L313.37,224.59 L313.63,225.15 L313.89,225.18 L314.15,226.06 L314.40,223.59 L314.66,223.76 L314.92,223.78 L315.18,222.76 L315.43,221.48 L315.69,222.34 L315.95,223.27 L316.21,220.90 L316.47,224.31 L316.72,224.38 L316.98,224.25 L317.24,222.68 L317.50,221.00 L317.75,222.75 L318.01,224.60 L318.27,225.51 L318.53,222.33 L318.79,222.84 L319.04,219.10 L319.30,219.22 L319.56,222.20 L319.82,220.31 L320.07,217.78 L320.33,220.05 L320.59,220.75 L320.85,219.00 L321.11,216.64 L321.36,219.20 L321.62,219.72 L321.88,221.22 L322.14,218.97 L322.39,220.29 L322.65,219.76 L322.91,218.36 L323.17,219.54 L323.42,220.17 L323.68,220.32 L323.94,219.87 L324.20,218.19 L324.46,218.48 L324.71,216.84 L324.97,218.80 L325.23,216.91 L325.49,218.74 L325.74,218.37 L326.00,217.61 L326.26,218.86 L326.52,219.61 L326.78,218.44 L327.03,218.53 L327.29,217.93 L327.55,216.52 L327.81,217.22 L328.06,217.74 L328.32,216.30 L328.58,217.84 L328.84,216.49 L329.10,217.64 L329.35,218.31 L329.61,219.95 L329.87,218.73 L330.13,217.96 L330.38,218.59 L330.64,217.21 L330.90,218.25 L331.16,216.45 L331.42,219.08 L331.67,216.05 L331.93,216.71 L332.19,217.76 L332.45,215.94 L332.70,218.13 L332.96,216.04 L333.22,216.64 L333.48,220.38 L333.74,219.96 L333.99,217.26 L334.25,216.19 L334.51,215.63 L334.77,217.08 L335.02,217.24 L335.28,215.87 L335.54,215.71 L335.80,214.55 L336.06,215.02 L336.31,215.31 L336.57,215.12 L336.83,217.62 L337.09,219.16 L337.34,220.37 L337.60,216.34 L337.86,216.79 L338.12,219.28 L338.37,217.57 L338.63,218.92 L338.89,219.54 L339.15,217.67 L339.41,215.27 L339.66,217.14 L339.92,216.51 L340.18,218.51 L340.44,217.92 L340.69,219.00 L340.95,220.09 L341.21,218.71 L341.47,217.21 L341.73,218.25 L341.98,217.48 L342.24,217.76 L342.50,218.59 L342.76,219.01 L343.01,218.59 L343.27,219.08 L343.53,218.73 L343.79,220.54 L344.05,222.12 L344.30,220.07 L344.56,218.28 L344.82,216.74 L345.08,218.01 L345.33,218.24 L345.59,217.55 L345.85,218.83 L346.11,219.46 L346.37,218.02 L346.62,220.58 L346.88,218.33 L347.14,219.15 L347.40,219.45 L347.65,220.15 L347.91,218.70 L348.17,218.97 L348.43,216.19 L348.69,217.21 L348.94,217.72 L349.20,220.73 L349.46,220.95 L349.72,220.94 L349.97,218.99 L350.23,221.10 L350.49,220.05 L350.75,221.88 L351.01,218.99 L351.26,217.60 L351.52,218.23 L351.78,220.21 L352.04,219.66 L352.29,220.44 L352.55,222.52 L352.81,221.86 L353.07,221.70 L353.32,223.74 L353.58,221.93 L353.84,217.61 L354.10,219.36 L354.36,217.35 L354.61,221.23 L354.87,221.50 L355.13,222.07 L355.39,220.47 L355.64,222.31 L355.90,220.50 L356.16,224.13 L356.42,221.21 L356.68,222.29 L356.93,219.30 L357.19,219.15 L357.45,218.45 L357.71,219.53 L357.96,219.24 L358.22,218.22 L358.48,216.80 L358.74,217.70 L359.00,218.03 L359.25,216.86 L359.51,217.52 L359.77,218.78 L360.03,219.13 L360.28,218.96 L360.54,216.85 L360.80,218.10 L361.06,218.51 L361.32,219.71 L361.57,215.86 L361.83,216.99 L362.09,216.60 L362.35,217.19 L362.60,218.24 L362.86,217.09 L363.12,215.67 L363.38,218.53 L363.64,217.03 L363.89,215.91 L364.15,217.21 L364.41,218.19 L364.67,217.23 L364.92,216.43 L365.18,217.01 L365.44,217.62 L365.70,217.38 L365.95,217.14 L366.21,215.55 L366.47,213.77 L366.73,213.18 L366.99,215.93 L367.24,218.89 L367.50,215.32 L367.76,216.14 L368.02,215.70 L368.27,216.65 L368.53,213.57 L368.79,214.04 L369.05,214.10 L369.31,215.69 L369.56,215.78 L369.82,214.55 L370.08,217.38 L370.34,211.88 L370.59,217.96 L370.85,219.53 L371.11,217.32 L371.37,217.31 L371.63,217.71 L371.88,218.88 L372.14,217.97 L372.40,219.14 L372.66,215.74 L372.91,215.56 L373.17,216.72 L373.43,216.23 L373.69,215.90 L373.95,214.85 L374.20,216.43 L374.46,214.65 L374.72,216.72 L374.98,214.62 L375.23,213.77 L375.49,214.96 L375.75,216.29 L376.01,216.19 L376.27,216.55 L376.52,216.72 L376.78,215.37 L377.04,215.84 L377.30,216.45 L377.55,216.99 L377.81,217.86 L378.07,217.74 L378.33,215.68 L378.59,216.17 L378.84,214.49 L379.10,217.68 L379.36,217.56 L379.62,216.59 L379.87,216.09 L380.13,217.17 L380.39,217.94 L380.65,218.76 L380.90,219.10 L381.16,219.86 L381.42,219.75 L381.68,219.91 L381.94,216.92 L382.19,217.47 L382.45,218.51 L382.71,218.68 L382.97,218.57 L383.22,217.25 L383.48,216.45 L383.74,217.10 L384.00,218.36 L384.26,218.80 L384.51,214.63 L384.77,217.57 L385.03,220.21 L385.29,220.70 L385.54,221.12 L385.80,221.58 L386.06,220.30 L386.32,219.16 L386.58,219.83 L386.83,217.18 L387.09,217.74 L387.35,219.63 L387.61,217.17 L387.86,220.15 L388.12,219.03 L388.38,218.81 L388.64,220.22 L388.90,217.77 L389.15,217.28 L389.41,217.84 L389.67,216.10 L389.93,216.88 L390.18,217.38 L390.44,221.46 L390.70,219.03 L390.96,218.78 L391.22,220.70 L391.47,221.51 L391.73,219.24 L391.99,219.61 L392.25,219.17 L392.50,221.15 L392.76,217.08 L393.02,215.31 L393.28,217.06 L393.54,218.95 L393.79,220.34 L394.05,220.11 L394.31,221.89 L394.57,218.76 L394.82,216.98 L395.08,218.78 L395.34,218.03 L395.60,218.18 L395.85,216.84 L396.11,217.55 L396.37,215.54 L396.63,219.92 L396.89,216.77 L397.14,213.75 L397.40,213.39 L397.66,217.25 L397.92,216.19 L398.17,215.26 L398.43,213.10 L398.69,214.91 L398.95,214.55 L399.21,211.66 L399.46,212.88 L399.72,211.55 L399.98,216.20 L400.24,217.04 L400.49,215.69 L400.75,218.35 L401.01,215.67 L401.27,214.38 L401.53,217.04 L401.78,214.83 L402.04,214.43 L402.30,215.83 L402.56,214.37 L402.81,215.77 L403.07,216.54 L403.33,215.39 L403.59,213.57 L403.85,213.54 L404.10,215.40 L404.36,213.49 L404.62,215.31 L404.88,214.17 L405.13,214.57 L405.39,213.97 L405.65,213.04 L405.91,213.86 L406.17,215.06 L406.42,214.99 L406.68,215.57 L406.94,214.22 L407.20,213.79 L407.45,215.56 L407.71,215.36 L407.97,214.14 L408.23,213.44 L408.48,211.71 L408.74,212.89 L409.00,210.36 L409.26,212.22 L409.52,213.98 L409.77,217.09 L410.03,216.30 L410.29,213.16 L410.55,214.24 L410.80,213.19 L411.06,214.35 L411.32,214.94 L411.58,209.44 L411.84,213.58 L412.09,213.86 L412.35,216.02 L412.61,214.68 L412.87,214.91 L413.12,215.61 L413.38,212.10 L413.64,210.75 L413.90,211.64 L414.16,212.87 L414.41,213.33 L414.67,212.79 L414.93,215.36 L415.19,212.64 L415.44,211.13 L415.70,211.55 L415.96,212.48 L416.22,212.04 L416.48,214.38 L416.73,211.37 L416.99,212.68 L417.25,215.79 L417.51,217.13 L417.76,217.48 L418.02,218.35 L418.28,217.18 L418.54,218.62 L418.80,217.15 L419.05,218.29 L419.31,215.21 L419.57,213.40 L419.83,212.95 L420.08,215.08 L420.34,214.01 L420.60,214.10 L420.86,215.24 L421.12,215.00 L421.37,212.07 L421.63,214.67 L421.89,217.09 L422.15,215.95 L422.40,215.87 L422.66,217.39 L422.92,216.22 L423.18,216.10 L423.43,213.35 L423.69,213.68 L423.95,215.91 L424.21,213.30 L424.47,216.71 L424.72,218.16 L424.98,216.57 L425.24,218.01 L425.50,216.93 L425.75,215.90 L426.01,215.35 L426.27,214.97 L426.53,212.24 L426.79,211.02 L427.04,211.54 L427.30,214.06 L427.56,214.18 L427.82,214.57 L428.07,211.87 L428.33,211.37 L428.59,213.28 L428.85,216.55 L429.11,212.45 L429.36,212.97 L429.62,211.85 L429.88,210.81 L430.14,209.07 L430.39,208.41 L430.65,208.64 L430.91,207.93 L431.17,208.27 L431.43,208.40 L431.68,207.39 L431.94,205.78 L432.20,209.09 L432.46,209.05 L432.71,211.15 L432.97,210.00 L433.23,209.29 L433.49,208.40 L433.75,209.96 L434.00,210.72 L434.26,209.19 L434.52,209.93 L434.78,211.90 L435.03,210.46 L435.29,211.41 L435.55,210.98 L435.81,212.20 L436.07,210.90 L436.32,210.45 L436.58,210.45 L436.84,212.30 L437.10,213.00 L437.35,213.95 L437.61,212.28 L437.87,212.10 L438.13,211.30 L438.38,210.34 L438.64,210.82 L438.90,213.24 L439.16,212.21 L439.42,212.87 L439.67,213.89 L439.93,211.52 L440.19,213.21 L440.45,213.50 L440.70,212.23 L440.96,212.79 L441.22,211.96 L441.48,214.06 L441.74,214.00 L441.99,211.05 L442.25,213.39 L442.51,214.70 L442.77,212.04 L443.02,213.31 L443.28,212.89 L443.54,214.55 L443.80,215.41 L444.06,213.73 L444.31,215.82 L444.57,214.40 L444.83,214.22 L445.09,212.33 L445.34,211.62 L445.60,211.96 L445.86,211.10 L446.12,210.95 L446.38,209.57 L446.63,212.40 L446.89,209.18 L447.15,209.85 L447.41,212.03 L447.66,211.60 L447.92,211.36 L448.18,211.65 L448.44,212.17 L448.70,211.21 L448.95,213.06 L449.21,213.47 L449.47,215.28 L449.73,215.57 L449.98,215.53 L450.24,216.13 L450.50,215.95 L450.76,216.34 L451.02,217.12 L451.27,214.78 L451.53,211.19 L451.79,214.59 L452.05,214.99 L452.30,218.46 L452.56,213.51 L452.82,215.56 L453.08,215.18 L453.33,214.57 L453.59,216.11 L453.85,214.72 L454.11,215.94 L454.37,216.68 L454.62,217.27 L454.88,218.85 L455.14,219.91 L455.40,220.04 L455.65,219.04 L455.91,217.92 L456.17,218.70 L456.43,216.91 L456.69,217.06 L456.94,216.19 L457.20,212.81 L457.46,216.01 L457.72,214.10 L457.97,217.75 L458.23,218.90 L458.49,216.87 L458.75,217.60 L459.01,217.13 L459.26,216.63 L459.52,216.43 L459.78,214.36 L460.04,215.84 L460.29,217.02 L460.55,218.45 L460.81,217.61 L461.07,215.23 L461.33,218.57 L461.58,216.92 L461.84,215.49 L462.10,215.64 L462.36,214.37 L462.61,214.06 L462.87,213.69 L463.13,213.69 L463.39,217.69 L463.65,216.51 L463.90,216.56 L464.16,215.62 L464.42,215.57 L464.68,214.76 L464.93,213.80 L465.19,213.03 L465.45,211.72 L465.71,210.93 L465.96,211.43 L466.22,213.29 L466.48,211.69 L466.74,211.75 L467.00,212.35 L467.25,211.59 L467.51,211.71 L467.77,212.20 L468.03,214.04 L468.28,215.50 L468.54,213.16 L468.80,214.04 L469.06,214.96 L469.32,215.32 L469.57,216.12 L469.83,214.50 L470.09,215.27 L470.35,214.40 L470.60,213.74 L470.86,212.88 L471.12,214.54 L471.38,213.19 L471.64,214.85 L471.89,216.44 L472.15,216.24 L472.41,214.93 L472.67,214.49 L472.92,214.12 L473.18,213.56 L473.44,213.78 L473.70,215.98 L473.96,215.05 L474.21,217.61 L474.47,216.06 L474.73,215.99 L474.99,219.36 L475.24,219.14 L475.50,219.04 L475.76,220.55 L476.02,220.30 L476.28,220.18 L476.53,219.88 L476.79,217.00 L477.05,216.28 L477.31,219.86 L477.56,221.69 L477.82,218.71 L478.08,218.45 L478.34,218.26 L478.60,219.53 L478.85,220.59 L479.11,219.63 L479.37,221.90 L479.63,221.35 L479.88,220.91 L480.14,220.95 L480.40,221.49 L480.66,221.87 L480.91,220.34 L481.17,221.84 L481.43,222.17 L481.69,223.23 L481.95,221.64 L482.20,222.61 L482.46,222.88 L482.72,223.74 L482.98,221.02 L483.23,221.80 L483.49,220.09 L483.75,221.09 L484.01,221.52 L484.27,221.94 L484.52,218.53 L484.78,219.92 L485.04,220.65 L485.30,219.43 L485.55,219.36 L485.81,219.26 L486.07,218.60 L486.33,219.45 L486.59,220.79 L486.84,222.04 L487.10,222.24 L487.36,219.89 L487.62,220.70 L487.87,220.50 L488.13,221.21 L488.39,215.31 L488.65,219.47 L488.91,217.79 L489.16,215.92 L489.42,214.31 L489.68,216.92 L489.94,219.57 L490.19,217.98 L490.45,218.93 L490.71,217.93 L490.97,218.40 L491.23,219.04 L491.48,218.82 L491.74,219.22 L492.00,217.76 L492.26,218.80 L492.51,217.30 L492.77,217.60 L493.03,217.80 L493.29,219.82 L493.55,218.40 L493.80,220.02 L494.06,219.88 L494.32,215.33 L494.58,215.63 L494.83,218.15 L495.09,218.60 L495.35,216.46 L495.61,216.34 L495.86,215.62 L496.12,214.22 L496.38,213.65 L496.64,215.71 L496.90,217.91 L497.15,217.75 L497.41,217.00 L497.67,214.77 L497.93,214.37 L498.18,213.79 L498.44,216.69 L498.70,215.29 L498.96,213.33 L499.22,215.34 L499.47,216.04 L499.73,214.92 L499.99,214.73 L500.25,214.45 L500.50,215.36 L500.76,215.80 L501.02,216.67 L501.28,214.68 L501.54,214.18 L501.79,214.84 L502.05,214.05 L502.31,211.84 L502.57,212.42 L502.82,212.83 L503.08,212.56 L503.34,214.36 L503.60,211.47 L503.86,214.12 L504.11,214.49 L504.37,215.17 L504.63,214.31 L504.89,212.99 L505.14,212.29 L505.40,214.76 L505.66,213.08 L505.92,212.83 L506.18,213.82 L506.43,212.50 L506.69,213.80 L506.95,211.52 L507.21,210.71 L507.46,211.88 L507.72,215.05 L507.98,212.97 L508.24,211.92 L508.49,212.68 L508.75,214.04 L509.01,211.45 L509.27,211.63 L509.53,212.98 L509.78,214.42 L510.04,212.74 L510.30,213.37 L510.56,211.86 L510.81,211.44 L511.07,213.46 L511.33,212.96 L511.59,211.01 L511.85,212.10 L512.10,209.61 L512.36,205.24 L512.62,211.24 L512.88,211.31 L513.13,210.05 L513.39,211.17 L513.65,212.61 L513.91,211.86 L514.17,211.95 L514.42,214.24 L514.68,214.34 L514.94,213.58 L515.20,212.41 L515.45,212.27 L515.71,212.38 L515.97,213.61 L516.23,215.20 L516.49,215.67 L516.74,217.37 L517.00,215.29 L517.26,214.14 L517.52,215.64 L517.77,216.64 L518.03,216.72 L518.29,212.74 L518.55,214.20 L518.81,215.39 L519.06,215.15 L519.32,217.05 L519.58,215.72 L519.84,215.82 L520.09,217.18 L520.35,216.11 L520.61,217.65 L520.87,219.47 L521.13,219.36 L521.38,217.68 L521.64,220.77 L521.90,220.01 L522.16,218.36 L522.41,216.91 L522.67,219.74 L522.93,218.24 L523.19,215.59 L523.44,216.10 L523.70,219.51 L523.96,217.19 L524.22,217.30 L524.48,218.32 L524.73,215.33 L524.99,216.73 L525.25,216.83 L525.51,217.83 L525.76,218.38 L526.02,216.33 L526.28,217.90 L526.54,218.12 L526.80,219.55 L527.05,215.58 L527.31,216.90 L527.57,217.16 L527.83,214.17 L528.08,216.32 L528.34,215.36 L528.60,213.18 L528.86,215.20 L529.12,215.10 L529.37,213.92 L529.63,212.60 L529.89,214.82 L530.15,214.68 L530.40,215.01 L530.66,215.40 L530.92,216.65 L531.18,215.82 L531.44,216.84 L531.69,216.44 L531.95,215.64 L532.21,215.92 L532.47,217.41 L532.72,218.33 L532.98,216.47 L533.24,216.78 L533.50,216.80 L533.76,215.93 L534.01,216.68 L534.27,216.39 L534.53,220.51 L534.79,218.23 L535.04,220.03 L535.30,219.61 L535.56,221.35 L535.82,222.00 L536.08,222.37 L536.33,222.02 L536.59,220.39 L536.85,217.65 L537.11,217.57 L537.36,220.05 L537.62,221.23 L537.88,223.13 L538.14,224.41 L538.39,221.79 L538.65,221.23 L538.91,225.51 L539.17,220.53 L539.43,222.05 L539.68,221.41 L539.94,219.88 L540.20,219.56 L540.46,220.88 L540.71,220.80 L540.97,218.14 L541.23,219.32 L541.49,220.13 L541.75,219.43 L542.00,221.33 L542.26,220.14 L542.52,219.23 L542.78,218.95 L543.03,217.20 L543.29,219.48 L543.55,216.78 L543.81,219.18 L544.07,218.57 L544.32,218.41 L544.58,219.87 L544.84,220.71 L545.10,216.26 L545.35,217.30 L545.61,218.34 L545.87,217.59 L546.13,218.66 L546.39,219.29 L546.64,219.30 L546.90,215.90 L547.16,217.32 L547.42,215.89 L547.67,215.40 L547.93,216.01 L548.19,214.00 L548.45,214.61 L548.71,217.97 L548.96,215.10 L549.22,215.09 L549.48,213.36 L549.74,215.92 L549.99,215.38 L550.25,216.23 L550.51,216.20 L550.77,217.53 L551.03,214.35 L551.28,214.22 L551.54,216.93 L551.80,216.13 L552.06,216.29 L552.31,216.97 L552.57,215.09 L552.83,216.80 L553.09,217.19 L553.34,219.69 L553.60,219.77 L553.86,218.86 L554.12,217.01 L554.38,217.21 L554.63,214.51 L554.89,216.95 L555.15,215.52 L555.41,216.36 L555.66,215.86 L555.92,219.14 L556.18,218.78 L556.44,218.71 L556.70,216.38 L556.95,216.85 L557.21,220.06 L557.47,215.58 L557.73,216.71 L557.98,216.94 L558.24,217.81 L558.50,219.46" stroke="#e81010" stroke-width="1.15" fill="none" stroke-linejoin="round"/>
<path d="M301.00,252.91 L301.26,253.61 L301.52,252.05 L301.77,253.16 L302.03,253.23 L302.29,254.36 L302.55,254.86 L302.80,255.86 L303.06,254.80 L303.32,255.15 L303.58,253.65 L303.84,254.32 L304.09,254.74 L304.35,254.71 L304.61,254.84 L304.87,254.11 L305.12,255.47 L305.38,253.93 L305.64,253.55 L305.90,254.46 L306.16,255.22 L306.41,255.07 L306.67,255.44 L306.93,256.00 L307.19,256.00 L307.44,255.45 L307.70,255.37 L307.96,254.84 L308.22,255.40 L308.47,255.03 L308.73,255.00 L308.99,255.70 L309.25,255.78 L309.51,255.51 L309.76,254.91 L310.02,256.00 L310.28,255.10 L310.54,254.72 L310.79,255.01 L311.05,254.39 L311.31,254.11 L311.57,255.85 L311.83,253.80 L312.08,255.86 L312.34,256.00 L312.60,255.74 L312.86,255.46 L313.11,255.68 L313.37,255.92 L313.63,255.44 L313.89,254.69 L314.15,254.64 L314.40,254.01 L314.66,256.00 L314.92,254.17 L315.18,254.07 L315.43,255.75 L315.69,254.10 L315.95,255.76 L316.21,256.00 L316.47,255.12 L316.72,255.89 L316.98,253.99 L317.24,254.10 L317.50,255.62 L317.75,255.68 L318.01,255.19 L318.27,255.75 L318.53,254.79 L318.79,254.23 L319.04,255.50 L319.30,255.26 L319.56,255.78 L319.82,256.00 L320.07,255.22 L320.33,255.35 L320.59,254.54 L320.85,256.00 L321.11,255.36 L321.36,255.20 L321.62,255.92 L321.88,254.17 L322.14,255.84 L322.39,255.91 L322.65,255.56 L322.91,253.42 L323.17,254.51 L323.42,256.00 L323.68,255.34 L323.94,254.61 L324.20,256.00 L324.46,256.00 L324.71,255.08 L324.97,254.93 L325.23,255.28 L325.49,255.37 L325.74,255.24 L326.00,255.27 L326.26,255.56 L326.52,255.16 L326.78,255.22 L327.03,255.43 L327.29,254.82 L327.55,256.00 L327.81,255.49 L328.06,254.71 L328.32,255.09 L328.58,255.96 L328.84,255.62 L329.10,255.36 L329.35,255.51 L329.61,256.00 L329.87,255.25 L330.13,254.93 L330.38,255.04 L330.64,254.98 L330.90,255.86 L331.16,255.86 L331.42,255.42 L331.67,254.88 L331.93,254.40 L332.19,255.51 L332.45,254.45 L332.70,255.17 L332.96,255.53 L333.22,255.00 L333.48,255.67 L333.74,255.26 L333.99,256.00 L334.25,255.12 L334.51,255.80 L334.77,256.00 L335.02,254.90 L335.28,254.82 L335.54,254.46 L335.80,255.19 L336.06,254.09 L336.31,254.97 L336.57,254.13 L336.83,255.49 L337.09,253.77 L337.34,253.98 L337.60,255.29 L337.86,255.59 L338.12,254.27 L338.37,255.42 L338.63,256.00 L338.89,256.00 L339.15,255.47 L339.41,252.89 L339.66,254.39 L339.92,255.44 L340.18,255.85 L340.44,256.00 L340.69,256.00 L340.95,256.00 L341.21,256.00 L341.47,254.08 L341.73,256.00 L341.98,254.77 L342.24,254.76 L342.50,256.00 L342.76,255.51 L343.01,256.00 L343.27,255.82 L343.53,255.29 L343.79,255.56 L344.05,254.39 L344.30,255.44 L344.56,255.98 L344.82,255.88 L345.08,255.07 L345.33,254.15 L345.59,255.41 L345.85,255.33 L346.11,256.00 L346.37,254.85 L346.62,255.23 L346.88,254.13 L347.14,255.50 L347.40,255.18 L347.65,256.00 L347.91,256.00 L348.17,256.00 L348.43,254.51 L348.69,254.54 L348.94,254.98 L349.20,255.58 L349.46,256.00 L349.72,255.27 L349.97,253.94 L350.23,255.30 L350.49,256.00 L350.75,254.66 L351.01,255.20 L351.26,253.60 L351.52,254.05 L351.78,255.37 L352.04,256.00 L352.29,255.45 L352.55,256.00 L352.81,255.27 L353.07,254.91 L353.32,254.63 L353.58,254.44 L353.84,254.65 L354.10,254.54 L354.36,254.50 L354.61,256.00 L354.87,256.00 L355.13,255.42 L355.39,255.47 L355.64,254.58 L355.90,255.79 L356.16,255.42 L356.42,253.67 L356.68,254.59 L356.93,253.54 L357.19,255.12 L357.45,255.75 L357.71,253.59 L357.96,255.46 L358.22,255.53 L358.48,254.62 L358.74,256.00 L359.00,256.00 L359.25,256.00 L359.51,255.83 L359.77,255.31 L360.03,255.29 L360.28,255.20 L360.54,255.41 L360.80,255.10 L361.06,254.43 L361.32,254.48 L361.57,256.00 L361.83,255.91 L362.09,254.78 L362.35,254.49 L362.60,255.51 L362.86,254.67 L363.12,254.58 L363.38,253.86 L363.64,254.48 L363.89,255.19 L364.15,254.95 L364.41,253.75 L364.67,254.66 L364.92,254.19 L365.18,254.25 L365.44,254.79 L365.70,255.25 L365.95,256.00 L366.21,256.00 L366.47,255.94 L366.73,255.02 L366.99,256.00 L367.24,256.00 L367.50,255.66 L367.76,255.28 L368.02,255.44 L368.27,255.77 L368.53,254.61 L368.79,256.00 L369.05,255.06 L369.31,255.60 L369.56,254.25 L369.82,255.01 L370.08,254.32 L370.34,254.52 L370.59,255.58 L370.85,254.53 L371.11,254.64 L371.37,254.72 L371.63,254.65 L371.88,256.00 L372.14,254.12 L372.40,256.00 L372.66,253.75 L372.91,255.83 L373.17,255.86 L373.43,255.68 L373.69,254.04 L373.95,254.84 L374.20,255.12 L374.46,254.82 L374.72,256.00 L374.98,255.67 L375.23,256.00 L375.49,254.19 L375.75,255.65 L376.01,254.45 L376.27,254.74 L376.52,254.18 L376.78,254.05 L377.04,255.92 L377.30,255.37 L377.55,255.66 L377.81,253.36 L378.07,253.53 L378.33,254.64 L378.59,254.84 L378.84,255.32 L379.10,255.44 L379.36,255.27 L379.62,254.61 L379.87,256.00 L380.13,254.35 L380.39,254.36 L380.65,255.22 L380.90,255.20 L381.16,256.00 L381.42,255.18 L381.68,254.91 L381.94,255.22 L382.19,253.76 L382.45,254.16 L382.71,254.14 L382.97,256.00 L383.22,255.53 L383.48,254.47 L383.74,255.36 L384.00,256.00 L384.26,254.79 L384.51,255.23 L384.77,255.23 L385.03,255.23 L385.29,256.00 L385.54,255.16 L385.80,254.43 L386.06,254.24 L386.32,254.82 L386.58,256.00 L386.83,256.00 L387.09,256.00 L387.35,256.00 L387.61,254.81 L387.86,256.00 L388.12,256.00 L388.38,256.00 L388.64,254.59 L388.90,255.78 L389.15,256.00 L389.41,256.00 L389.67,254.60 L389.93,255.54 L390.18,254.72 L390.44,255.66 L390.70,255.15 L390.96,255.69 L391.22,256.00 L391.47,255.70 L391.73,255.70 L391.99,255.06 L392.25,254.66 L392.50,255.01 L392.76,254.80 L393.02,255.13 L393.28,255.09 L393.54,255.32 L393.79,254.31 L394.05,253.81 L394.31,255.08 L394.57,255.11 L394.82,255.36 L395.08,256.00 L395.34,254.58 L395.60,256.00 L395.85,256.00 L396.11,256.00 L396.37,256.00 L396.63,256.00 L396.89,255.27 L397.14,254.14 L397.40,254.46 L397.66,254.88 L397.92,255.92 L398.17,255.85 L398.43,254.99 L398.69,255.50 L398.95,256.00 L399.21,256.00 L399.46,255.20 L399.72,255.65 L399.98,255.00 L400.24,254.60 L400.49,254.88 L400.75,255.96 L401.01,255.09 L401.27,254.74 L401.53,254.86 L401.78,255.80 L402.04,254.95 L402.30,256.00 L402.56,255.07 L402.81,254.51 L403.07,255.53 L403.33,254.44 L403.59,254.61 L403.85,256.00 L404.10,256.00 L404.36,256.00 L404.62,255.82 L404.88,254.90 L405.13,254.43 L405.39,255.70 L405.65,255.54 L405.91,255.40 L406.17,254.39 L406.42,256.00 L406.68,256.00 L406.94,255.01 L407.20,255.10 L407.45,255.83 L407.71,254.82 L407.97,254.89 L408.23,254.22 L408.48,253.47 L408.74,253.50 L409.00,252.56 L409.26,254.53 L409.52,255.32 L409.77,254.53 L410.03,255.50 L410.29,255.06 L410.55,255.20 L410.80,253.83 L411.06,256.00 L411.32,256.00 L411.58,254.72 L411.84,256.00 L412.09,255.30 L412.35,255.09 L412.61,255.13 L412.87,253.99 L413.12,255.39 L413.38,254.43 L413.64,256.00 L413.90,255.43 L414.16,254.32 L414.41,255.67 L414.67,253.90 L414.93,254.86 L415.19,254.32 L415.44,254.72 L415.70,254.11 L415.96,255.49 L416.22,255.40 L416.48,255.83 L416.73,256.00 L416.99,256.00 L417.25,256.00 L417.51,255.01 L417.76,254.54 L418.02,255.06 L418.28,256.00 L418.54,254.19 L418.80,255.38 L419.05,256.00 L419.31,254.23 L419.57,255.09 L419.83,254.36 L420.08,255.48 L420.34,255.30 L420.60,254.11 L420.86,254.43 L421.12,255.46 L421.37,255.08 L421.63,255.36 L421.89,254.75 L422.15,255.75 L422.40,253.99 L422.66,254.06 L422.92,254.14 L423.18,255.00 L423.43,253.38 L423.69,254.81 L423.95,256.00 L424.21,255.03 L424.47,255.83 L424.72,253.52 L424.98,255.48 L425.24,256.00 L425.50,256.00 L425.75,254.45 L426.01,254.53 L426.27,255.65 L426.53,254.41 L426.79,255.55 L427.04,253.51 L427.30,256.00 L427.56,255.45 L427.82,255.98 L428.07,254.61 L428.33,254.75 L428.59,255.37 L428.85,254.31 L429.11,255.21 L429.36,255.11 L429.62,255.35 L429.88,256.00 L430.14,254.21 L430.39,255.55 L430.65,255.11 L430.91,254.67 L431.17,256.00 L431.43,254.26 L431.68,256.00 L431.94,256.00 L432.20,255.21 L432.46,254.46 L432.71,255.38 L432.97,253.76 L433.23,254.29 L433.49,254.73 L433.75,256.00 L434.00,255.31 L434.26,256.00 L434.52,256.00 L434.78,254.45 L435.03,255.18 L435.29,255.61 L435.55,255.36 L435.81,255.72 L436.07,255.55 L436.32,255.03 L436.58,256.00 L436.84,254.78 L437.10,254.56 L437.35,254.58 L437.61,256.00 L437.87,255.48 L438.13,256.00 L438.38,253.89 L438.64,254.62 L438.90,254.37 L439.16,255.05 L439.42,256.00 L439.67,255.34 L439.93,255.03 L440.19,255.74 L440.45,256.00 L440.70,253.64 L440.96,255.85 L441.22,255.46 L441.48,254.26 L441.74,254.11 L441.99,255.58 L442.25,255.72 L442.51,254.96 L442.77,254.95 L443.02,255.61 L443.28,255.00 L443.54,255.88 L443.80,254.85 L444.06,255.06 L444.31,254.92 L444.57,255.17 L444.83,255.77 L445.09,254.62 L445.34,255.93 L445.60,255.61 L445.86,255.31 L446.12,254.90 L446.38,253.75 L446.63,255.50 L446.89,254.97 L447.15,254.38 L447.41,256.00 L447.66,255.49 L447.92,256.00 L448.18,255.23 L448.44,256.00 L448.70,256.00 L448.95,255.33 L449.21,255.63 L449.47,255.41 L449.73,253.46 L449.98,255.05 L450.24,254.80 L450.50,254.27 L450.76,256.00 L451.02,255.91 L451.27,253.86 L451.53,253.97 L451.79,255.24 L452.05,254.04 L452.30,254.59 L452.56,254.04 L452.82,254.75 L453.08,255.05 L453.33,254.44 L453.59,256.00 L453.85,256.00 L454.11,256.00 L454.37,256.00 L454.62,255.96 L454.88,256.00 L455.14,254.26 L455.40,255.19 L455.65,253.84 L455.91,256.00 L456.17,254.83 L456.43,254.99 L456.69,254.38 L456.94,254.47 L457.20,253.21 L457.46,256.00 L457.72,255.16 L457.97,255.03 L458.23,253.81 L458.49,254.52 L458.75,255.06 L459.01,255.15 L459.26,255.59 L459.52,254.66 L459.78,255.96 L460.04,255.92 L460.29,255.75 L460.55,255.87 L460.81,255.50 L461.07,254.82 L461.33,255.75 L461.58,255.77 L461.84,254.85 L462.10,255.71 L462.36,254.31 L462.61,255.57 L462.87,256.00 L463.13,256.00 L463.39,255.43 L463.65,255.65 L463.90,255.78 L464.16,255.50 L464.42,255.05 L464.68,255.73 L464.93,256.00 L465.19,255.44 L465.45,256.00 L465.71,256.00 L465.96,256.00 L466.22,255.95 L466.48,256.00 L466.74,254.14 L467.00,254.78 L467.25,255.53 L467.51,255.18 L467.77,253.60 L468.03,255.57 L468.28,256.00 L468.54,254.04 L468.80,254.34 L469.06,254.20 L469.32,254.64 L469.57,254.57 L469.83,254.30 L470.09,255.18 L470.35,254.92 L470.60,255.59 L470.86,255.60 L471.12,253.29 L471.38,254.43 L471.64,255.25 L471.89,254.18 L472.15,254.63 L472.41,255.63 L472.67,255.93 L472.92,255.85 L473.18,255.12 L473.44,255.34 L473.70,255.32 L473.96,255.86 L474.21,254.55 L474.47,254.12 L474.73,253.84 L474.99,255.31 L475.24,255.78 L475.50,253.47 L475.76,255.44 L476.02,254.16 L476.28,255.71 L476.53,254.35 L476.79,255.40 L477.05,254.69 L477.31,255.36 L477.56,255.31 L477.82,253.09 L478.08,254.54 L478.34,256.00 L478.60,255.46 L478.85,256.00 L479.11,255.51 L479.37,254.72 L479.63,255.22 L479.88,255.93 L480.14,256.00 L480.40,256.00 L480.66,255.03 L480.91,256.00 L481.17,254.91 L481.43,255.07 L481.69,254.52 L481.95,255.70 L482.20,255.51 L482.46,256.00 L482.72,255.19 L482.98,255.83 L483.23,255.45 L483.49,255.35 L483.75,254.68 L484.01,256.00 L484.27,255.68 L484.52,255.97 L484.78,254.29 L485.04,255.16 L485.30,254.90 L485.55,255.28 L485.81,256.00 L486.07,256.00 L486.33,254.23 L486.59,256.00 L486.84,253.62 L487.10,255.79 L487.36,254.53 L487.62,256.00 L487.87,255.00 L488.13,256.00 L488.39,255.01 L488.65,254.25 L488.91,255.97 L489.16,255.64 L489.42,254.93 L489.68,256.00 L489.94,254.73 L490.19,256.00 L490.45,254.24 L490.71,253.96 L490.97,255.27 L491.23,254.39 L491.48,255.31 L491.74,253.56 L492.00,256.00 L492.26,254.71 L492.51,254.39 L492.77,255.36 L493.03,254.67 L493.29,254.73 L493.55,255.90 L493.80,255.10 L494.06,255.79 L494.32,255.80 L494.58,254.96 L494.83,255.85 L495.09,256.00 L495.35,255.44 L495.61,255.61 L495.86,255.85 L496.12,254.32 L496.38,254.81 L496.64,254.83 L496.90,255.13 L497.15,255.08 L497.41,254.63 L497.67,255.42 L497.93,255.06 L498.18,256.00 L498.44,253.83 L498.70,255.13 L498.96,256.00 L499.22,254.88 L499.47,255.28 L499.73,254.47 L499.99,254.83 L500.25,256.00 L500.50,254.40 L500.76,254.74 L501.02,254.40 L501.28,254.98 L501.54,254.82 L501.79,255.27 L502.05,254.20 L502.31,254.46 L502.57,255.33 L502.82,255.37 L503.08,255.09 L503.34,255.01 L503.60,255.53 L503.86,256.00 L504.11,255.12 L504.37,254.64 L504.63,254.57 L504.89,256.00 L505.14,253.96 L505.40,253.96 L505.66,255.92 L505.92,256.00 L506.18,254.98 L506.43,255.10 L506.69,253.60 L506.95,254.20 L507.21,256.00 L507.46,255.05 L507.72,254.59 L507.98,255.52 L508.24,255.40 L508.49,255.05 L508.75,254.49 L509.01,254.46 L509.27,256.00 L509.53,254.73 L509.78,255.77 L510.04,254.58 L510.30,256.00 L510.56,255.34 L510.81,254.83 L511.07,256.00 L511.33,254.63 L511.59,255.31 L511.85,255.09 L512.10,255.27 L512.36,255.60 L512.62,255.08 L512.88,254.88 L513.13,256.00 L513.39,253.76 L513.65,255.17 L513.91,254.99 L514.17,255.29 L514.42,255.58 L514.68,256.00 L514.94,256.00 L515.20,254.95 L515.45,256.00 L515.71,254.08 L515.97,254.00 L516.23,255.58 L516.49,256.00 L516.74,255.02 L517.00,255.03 L517.26,254.35 L517.52,255.58 L517.77,253.96 L518.03,254.39 L518.29,254.74 L518.55,255.94 L518.81,255.91 L519.06,256.00 L519.32,255.28 L519.58,255.65 L519.84,255.02 L520.09,254.91 L520.35,254.83 L520.61,255.47 L520.87,253.98 L521.13,254.80 L521.38,256.00 L521.64,253.71 L521.90,254.81 L522.16,255.75 L522.41,255.72 L522.67,254.99 L522.93,255.29 L523.19,255.73 L523.44,256.00 L523.70,254.39 L523.96,254.28 L524.22,256.00 L524.48,255.02 L524.73,254.93 L524.99,255.55 L525.25,256.00 L525.51,255.49 L525.76,255.10 L526.02,254.50 L526.28,254.00 L526.54,256.00 L526.80,255.89 L527.05,255.79 L527.31,255.27 L527.57,254.93 L527.83,255.63 L528.08,255.59 L528.34,253.18 L528.60,255.79 L528.86,254.88 L529.12,255.51 L529.37,254.31 L529.63,256.00 L529.89,255.59 L530.15,254.88 L530.40,256.00 L530.66,254.55 L530.92,254.73 L531.18,254.32 L531.44,254.01 L531.69,254.34 L531.95,255.65 L532.21,254.77 L532.47,254.73 L532.72,255.36 L532.98,254.58 L533.24,255.16 L533.50,254.61 L533.76,253.88 L534.01,254.09 L534.27,252.94 L534.53,255.27 L534.79,255.67 L535.04,254.73 L535.30,254.41 L535.56,255.10 L535.82,254.67 L536.08,255.19 L536.33,253.96 L536.59,254.07 L536.85,255.45 L537.11,254.31 L537.36,254.43 L537.62,256.00 L537.88,254.27 L538.14,255.14 L538.39,255.27 L538.65,254.91 L538.91,255.74 L539.17,254.27 L539.43,253.47 L539.68,256.00 L539.94,255.38 L540.20,255.16 L540.46,255.97 L540.71,255.40 L540.97,255.28 L541.23,255.47 L541.49,256.00 L541.75,255.93 L542.00,256.00 L542.26,255.02 L542.52,254.12 L542.78,254.68 L543.03,255.13 L543.29,255.22 L543.55,256.00 L543.81,256.00 L544.07,255.75 L544.32,256.00 L544.58,255.58 L544.84,255.21 L545.10,255.42 L545.35,255.22 L545.61,254.65 L545.87,255.31 L546.13,255.06 L546.39,254.90 L546.64,255.61 L546.90,255.98 L547.16,253.92 L547.42,253.27 L547.67,254.53 L547.93,256.00 L548.19,255.89 L548.45,256.00 L548.71,254.70 L548.96,255.61 L549.22,254.82 L549.48,254.86 L549.74,255.35 L549.99,254.19 L550.25,255.85 L550.51,254.77 L550.77,256.00 L551.03,254.92 L551.28,255.19 L551.54,254.85 L551.80,254.84 L552.06,254.11 L552.31,254.36 L552.57,256.00 L552.83,255.26 L553.09,255.28 L553.34,256.00 L553.60,255.59 L553.86,254.56 L554.12,254.87 L554.38,255.47 L554.63,256.00 L554.89,254.21 L555.15,255.26 L555.41,255.72 L555.66,254.20 L555.92,255.36 L556.18,253.76 L556.44,255.45 L556.70,253.11 L556.95,254.14 L557.21,255.93 L557.47,254.86 L557.73,254.89 L557.98,255.35 L558.24,256.00 L558.50,256.00" stroke="#000000" stroke-width="1.1" fill="none" stroke-linejoin="round"/></g>
<rect x="209.60" y="66.20" width="85.80" height="90.30" fill="#fff" stroke="#111" stroke-width="1.1"/>
<line x1="216.30" y1="78.30" x2="254.10" y2="78.30" stroke="#7fe3ee" stroke-width="1.4"/>
<text x="258.40" y="81.90" font-size="10.6" style="stroke-width:0.1px" font-family="Liberation Sans, sans-serif">P<tspan font-size="7.4" dx="-0.4" dy="5.3">A</tspan><tspan dx="-1" dy="-5.3">=10</tspan><tspan font-size="7.8" dx="-0.5" dy="-4.6">3</tspan></text>
<line x1="216.30" y1="99.90" x2="254.10" y2="99.90" stroke="#55d655" stroke-width="1.4"/>
<text x="258.40" y="103.50" font-size="10.6" style="stroke-width:0.1px" font-family="Liberation Sans, sans-serif">P<tspan font-size="7.4" dx="-0.4" dy="5.3">A</tspan><tspan dx="-1" dy="-5.3">=10</tspan><tspan font-size="7.8" dx="-0.5" dy="-4.6">2</tspan></text>
<line x1="216.30" y1="121.70" x2="254.10" y2="121.70" stroke="#dd5555" stroke-width="1.4"/>
<text x="258.40" y="125.30" font-size="10.6" style="stroke-width:0.1px" font-family="Liberation Sans, sans-serif">P<tspan font-size="7.4" dx="-0.4" dy="5.3">A</tspan><tspan dx="-1" dy="-5.3">=10</tspan><tspan font-size="7.8" dx="-0.5" dy="-4.6">1</tspan></text>
<line x1="216.30" y1="143.50" x2="254.10" y2="143.50" stroke="#444444" stroke-width="1.4"/>
<text x="258.40" y="147.10" font-size="10.6" style="stroke-width:0.1px" font-family="Liberation Sans, sans-serif">P<tspan font-size="7.4" dx="-0.4" dy="5.3">A</tspan><tspan dx="-1" dy="-5.3">=10</tspan><tspan font-size="7.8" dx="-0.5" dy="-4.6">0</tspan></text>
<rect x="467.00" y="11.30" width="85.80" height="89.70" fill="#fff" stroke="#111" stroke-width="1.1"/>
<line x1="474.10" y1="23.70" x2="511.60" y2="23.70" stroke="#7fe3ee" stroke-width="1.4"/>
<text x="515.60" y="27.30" font-size="10.6" style="stroke-width:0.1px" font-family="Liberation Sans, sans-serif">P<tspan font-size="7.4" dx="-0.4" dy="5.3">A</tspan><tspan dx="-1" dy="-5.3">=10</tspan><tspan font-size="7.8" dx="-0.5" dy="-4.6">6</tspan></text>
<line x1="474.10" y1="45.10" x2="511.60" y2="45.10" stroke="#55d655" stroke-width="1.4"/>
<text x="515.60" y="48.70" font-size="10.6" style="stroke-width:0.1px" font-family="Liberation Sans, sans-serif">P<tspan font-size="7.4" dx="-0.4" dy="5.3">A</tspan><tspan dx="-1" dy="-5.3">=10</tspan><tspan font-size="7.8" dx="-0.5" dy="-4.6">4</tspan></text>
<line x1="474.10" y1="66.30" x2="511.60" y2="66.30" stroke="#dd5555" stroke-width="1.4"/>
<text x="515.60" y="69.90" font-size="10.6" style="stroke-width:0.1px" font-family="Liberation Sans, sans-serif">P<tspan font-size="7.4" dx="-0.4" dy="5.3">A</tspan><tspan dx="-1" dy="-5.3">=10</tspan><tspan font-size="7.8" dx="-0.5" dy="-4.6">2</tspan></text>
<line x1="474.10" y1="88.00" x2="511.60" y2="88.00" stroke="#444444" stroke-width="1.4"/>
<text x="515.60" y="91.60" font-size="10.6" style="stroke-width:0.1px" font-family="Liberation Sans, sans-serif">P<tspan font-size="7.4" dx="-0.4" dy="5.3">A</tspan><tspan dx="-1" dy="-5.3">=10</tspan><tspan font-size="7.8" dx="-0.5" dy="-4.6">0</tspan></text>
<text x="38.30" y="258.70" font-size="9.9" text-anchor="end" font-weight="normal" font-family="Liberation Sans, sans-serif" >0</text>
<text x="38.30" y="233.51" font-size="9.9" text-anchor="end" font-weight="normal" font-family="Liberation Sans, sans-serif" >100</text>
<text x="38.30" y="208.32" font-size="9.9" text-anchor="end" font-weight="normal" font-family="Liberation Sans, sans-serif" >200</text>
<text x="38.30" y="183.13" font-size="9.9" text-anchor="end" font-weight="normal" font-family="Liberation Sans, sans-serif" >300</text>
<text x="38.30" y="157.94" font-size="9.9" text-anchor="end" font-weight="normal" font-family="Liberation Sans, sans-serif" >400</text>
<text x="38.30" y="132.75" font-size="9.9" text-anchor="end" font-weight="normal" font-family="Liberation Sans, sans-serif" >500</text>
<text x="38.30" y="107.56" font-size="9.9" text-anchor="end" font-weight="normal" font-family="Liberation Sans, sans-serif" >600</text>
<text x="38.30" y="82.37" font-size="9.9" text-anchor="end" font-weight="normal" font-family="Liberation Sans, sans-serif" >700</text>
<text x="38.30" y="57.18" font-size="9.9" text-anchor="end" font-weight="normal" font-family="Liberation Sans, sans-serif" >800</text>
<text x="38.30" y="31.99" font-size="9.9" text-anchor="end" font-weight="normal" font-family="Liberation Sans, sans-serif" >900</text>
<text x="38.30" y="7.60" font-size="9.9" text-anchor="end" font-weight="normal" font-family="Liberation Sans, sans-serif" >1000</text>
<text x="42.70" y="269.90" font-size="9.9" text-anchor="middle" font-weight="normal" font-family="Liberation Sans, sans-serif" >0</text>
<text x="93.51" y="269.90" font-size="9.9" text-anchor="middle" font-weight="normal" font-family="Liberation Sans, sans-serif" >200</text>
<text x="145.02" y="269.90" font-size="9.9" text-anchor="middle" font-weight="normal" font-family="Liberation Sans, sans-serif" >400</text>
<text x="196.53" y="269.90" font-size="9.9" text-anchor="middle" font-weight="normal" font-family="Liberation Sans, sans-serif" >600</text>
<text x="248.04" y="269.90" font-size="9.9" text-anchor="middle" font-weight="normal" font-family="Liberation Sans, sans-serif" >800</text>
<text x="300.80" y="269.90" font-size="9.9" text-anchor="middle" font-weight="normal" font-family="Liberation Sans, sans-serif" >0</text>
<text x="350.98" y="269.90" font-size="9.9" text-anchor="middle" font-weight="normal" font-family="Liberation Sans, sans-serif" >2e5</text>
<text x="402.46" y="269.90" font-size="9.9" text-anchor="middle" font-weight="normal" font-family="Liberation Sans, sans-serif" >4e5</text>
<text x="453.94" y="269.90" font-size="9.9" text-anchor="middle" font-weight="normal" font-family="Liberation Sans, sans-serif" >6e5</text>
<text x="505.42" y="269.90" font-size="9.9" text-anchor="middle" font-weight="normal" font-family="Liberation Sans, sans-serif" >8e5</text>
<text x="556.90" y="269.90" font-size="9.9" text-anchor="middle" font-weight="normal" font-family="Liberation Sans, sans-serif" >1e6</text>
<text x="167.40" y="286.60" font-size="12.75" text-anchor="middle" font-weight="normal" font-family="Liberation Sans, sans-serif" >No<tspan dx="0.9">.</tspan><tspan dx="-0.9"> of time steps</tspan></text>
<text x="425.80" y="286.60" font-size="12.75" text-anchor="middle" font-weight="normal" font-family="Liberation Sans, sans-serif" >No<tspan dx="0.9">.</tspan><tspan dx="-0.9"> of time steps</tspan></text>
<text transform="translate(11.2,131) rotate(-90)" x="0" y="0" font-size="12.75" text-anchor="middle" font-family="Liberation Sans, sans-serif">No. of bound ligand</text>
<text x="49.40" y="24.00" font-size="16.5" text-anchor="start" font-weight="bold" font-family="Liberation Sans, sans-serif" style="stroke-width:0.05px">(a)</text>
<text x="307.00" y="24.00" font-size="16.5" text-anchor="start" font-weight="bold" font-family="Liberation Sans, sans-serif" style="stroke-width:0.05px">(b)</text>
</svg>
</body></html>
